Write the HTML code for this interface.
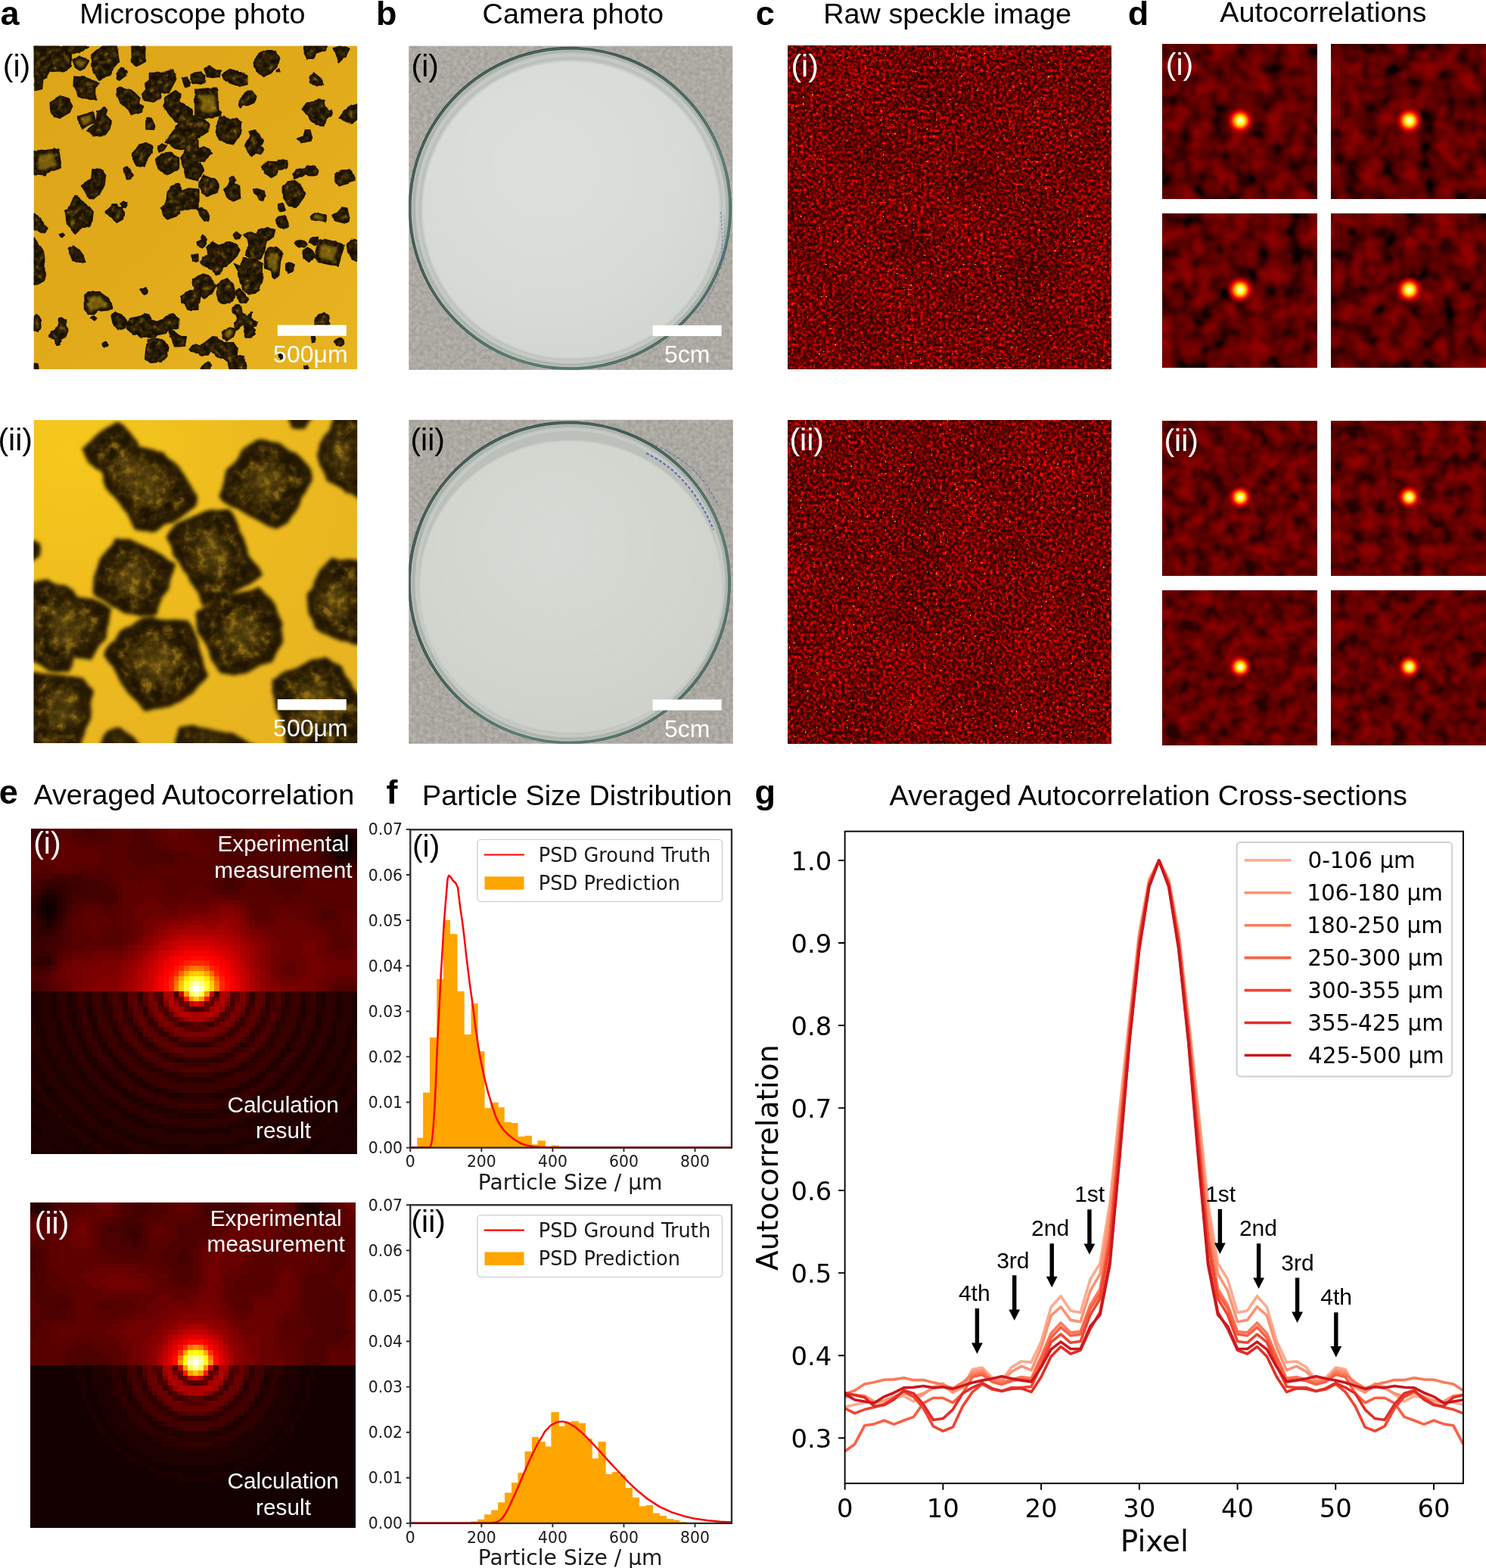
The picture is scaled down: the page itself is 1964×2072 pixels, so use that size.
<!DOCTYPE html>
<html lang="en"><head><meta charset="utf-8"><title>Figure</title>
<style>
html,body{margin:0;padding:0;background:#fff;}
body{width:1964px;height:2072px;overflow:hidden;}
svg{display:block;}
.a{font-family:"Liberation Sans",sans-serif;}
.b{font-family:"Liberation Sans",sans-serif;font-weight:bold;}
.d{font-family:"DejaVu Sans",sans-serif;}
</style></head><body>
<svg xmlns="http://www.w3.org/2000/svg" width="1964" height="2072" viewBox="0 0 1964 2072">
<!-- defs -->
<defs>
<clipPath id="ca1"><rect x="44.5" y="60.4" width="427.7" height="427.5"/></clipPath>
<linearGradient id="ga1" x1="0" y1="0" x2="1" y2="1"><stop offset="0" stop-color="#dda518"/><stop offset="0.5" stop-color="#e1aa1b"/><stop offset="1" stop-color="#e9b422"/></linearGradient>
<filter id="pf1" x="-3%" y="-3%" width="106%" height="106%" color-interpolation-filters="sRGB"><feTurbulence type="fractalNoise" baseFrequency="0.07" numOctaves="2" seed="4" result="n"/><feDisplacementMap in="SourceGraphic" in2="n" scale="4.5" xChannelSelector="R" yChannelSelector="G" result="s0"/><feGaussianBlur in="s0" stdDeviation="0.5" result="s"/><feTurbulence type="fractalNoise" baseFrequency="0.13" numOctaves="3" seed="9"/><feColorMatrix type="matrix" values="1 0 0 0 0 1 0 0 0 0 1 0 0 0 0 0 0 0 0 1"/><feComponentTransfer result="tex"><feFuncR type="table" tableValues="0.09 0.09 0.09 0.09 0.09 0.09 0.09 0.098 0.118 0.143 0.17 0.201 0.233 0.267 0.333 0.405 0.48 0.48 0.48 0.48 0.48"/><feFuncG type="table" tableValues="0.06 0.06 0.06 0.06 0.06 0.06 0.06 0.066 0.08 0.098 0.118 0.14 0.163 0.188 0.241 0.298 0.358 0.358 0.358 0.358 0.358"/><feFuncB type="table" tableValues="0 0 0 0 0 0 0 0.001 0.005 0.009 0.013 0.018 0.024 0.029 0.041 0.053 0.066 0.066 0.066 0.066 0.066"/></feComponentTransfer><feMorphology in="s0" operator="erode" radius="1.7"/><feGaussianBlur stdDeviation="1.4" result="er"/><feComposite in="tex" in2="er" operator="in" result="inner"/><feMerge><feMergeNode in="s"/><feMergeNode in="inner"/></feMerge></filter>
<filter id="bl1" x="-10%" y="-10%" width="120%" height="120%"><feGaussianBlur stdDeviation="1.6"/></filter>
<clipPath id="ca2"><rect x="44.5" y="555.1" width="427.7" height="427"/></clipPath>
<radialGradient id="ga2" cx="0.12" cy="0.1" r="1.2"><stop offset="0" stop-color="#f6c81c"/><stop offset="0.45" stop-color="#edbb1e"/><stop offset="1" stop-color="#e6b222"/></radialGradient>
<filter id="pf2" x="-3%" y="-3%" width="106%" height="106%" color-interpolation-filters="sRGB"><feTurbulence type="fractalNoise" baseFrequency="0.035" numOctaves="2" seed="9" result="n"/><feDisplacementMap in="SourceGraphic" in2="n" scale="10" xChannelSelector="R" yChannelSelector="G" result="s0"/><feGaussianBlur in="s0" stdDeviation="2.6" result="s"/><feTurbulence type="fractalNoise" baseFrequency="0.07" numOctaves="4" seed="14"/><feColorMatrix type="matrix" values="1 0 0 0 0 1 0 0 0 0 1 0 0 0 0 0 0 0 0 1"/><feComponentTransfer result="tex"><feFuncR type="table" tableValues="0.108 0.108 0.108 0.108 0.108 0.108 0.108 0.129 0.155 0.185 0.217 0.25 0.299 0.369 0.441 0.515 0.515 0.515 0.515 0.515 0.515"/><feFuncG type="table" tableValues="0.073 0.073 0.073 0.073 0.073 0.073 0.073 0.088 0.107 0.129 0.152 0.176 0.213 0.269 0.327 0.386 0.386 0.386 0.386 0.386 0.386"/><feFuncB type="table" tableValues="0.003 0.003 0.003 0.003 0.003 0.003 0.003 0.006 0.011 0.016 0.021 0.027 0.035 0.047 0.059 0.072 0.072 0.072 0.072 0.072 0.072"/></feComponentTransfer><feMorphology in="s0" operator="erode" radius="8"/><feGaussianBlur stdDeviation="7" result="er"/><feComposite in="tex" in2="er" operator="in" result="inner"/><feMerge><feMergeNode in="s"/><feMergeNode in="inner"/></feMerge></filter>
<filter id="bl2" x="-30%" y="-30%" width="160%" height="160%"><feGaussianBlur stdDeviation="9"/></filter>
<filter id="bg1" x="0" y="0" width="100%" height="100%" color-interpolation-filters="sRGB"><feTurbulence type="fractalNoise" baseFrequency="0.2" numOctaves="4" seed="21"/><feColorMatrix type="matrix" values="1 0 0 0 0 1 0 0 0 0 1 0 0 0 0 0 0 0 0 1"/><feComponentTransfer><feFuncR type="table" tableValues="0.612 0.612 0.628 0.645 0.662 0.678 0.695 0.712 0.728 0.745 0.745"/><feFuncG type="table" tableValues="0.6 0.6 0.617 0.633 0.65 0.667 0.683 0.7 0.717 0.733 0.733"/><feFuncB type="table" tableValues="0.573 0.573 0.59 0.607 0.624 0.641 0.658 0.675 0.693 0.71 0.71"/></feComponentTransfer></filter>
<filter id="bg2" x="0" y="0" width="100%" height="100%" color-interpolation-filters="sRGB"><feTurbulence type="fractalNoise" baseFrequency="0.2" numOctaves="4" seed="33"/><feColorMatrix type="matrix" values="1 0 0 0 0 1 0 0 0 0 1 0 0 0 0 0 0 0 0 1"/><feComponentTransfer><feFuncR type="table" tableValues="0.604 0.604 0.622 0.639 0.657 0.675 0.692 0.71 0.727 0.745 0.745"/><feFuncG type="table" tableValues="0.592 0.592 0.61 0.627 0.645 0.663 0.68 0.698 0.716 0.733 0.733"/><feFuncB type="table" tableValues="0.565 0.565 0.583 0.601 0.619 0.637 0.655 0.674 0.692 0.71 0.71"/></feComponentTransfer></filter>
<filter id="pw1" x="-2%" y="-2%" width="104%" height="104%" color-interpolation-filters="sRGB"><feGaussianBlur in="SourceGraphic" stdDeviation="1.6" result="s"/><feTurbulence type="fractalNoise" baseFrequency="0.4" numOctaves="3" seed="3"/><feColorMatrix type="matrix" values="0 0 0 0 1 0 0 0 0 1 0 0 0 0 1 0.1 0 0 0 -0.042"/><feComposite in2="s" operator="in" result="t"/><feMerge><feMergeNode in="s"/><feMergeNode in="t"/></feMerge></filter>
<filter id="pw2" x="-2%" y="-2%" width="104%" height="104%" color-interpolation-filters="sRGB"><feGaussianBlur in="SourceGraphic" stdDeviation="1.2" result="s"/><feTurbulence type="fractalNoise" baseFrequency="0.5" numOctaves="3" seed="5"/><feColorMatrix type="matrix" values="0 0 0 0 1 0 0 0 0 1 0 0 0 0 1 0.16 0 0 0 -0.0672"/><feComposite in2="s" operator="in" result="t"/><feMerge><feMergeNode in="s"/><feMergeNode in="t"/></feMerge></filter>
<radialGradient id="gp1" cx="0.42" cy="0.36" r="0.7"><stop offset="0" stop-color="#dcdfda"/><stop offset="0.6" stop-color="#d8dbd6"/><stop offset="1" stop-color="#d1d5cf"/></radialGradient>
<radialGradient id="gp2" cx="0.45" cy="0.35" r="0.75"><stop offset="0" stop-color="#d8dbd5"/><stop offset="0.6" stop-color="#d2d5ce"/><stop offset="1" stop-color="#cdd0c9"/></radialGradient>
<linearGradient id="rim" x1="0" y1="0" x2="1" y2="1"><stop offset="0" stop-color="#3b524b"/><stop offset="0.35" stop-color="#344a44"/><stop offset="0.65" stop-color="#4d7266"/><stop offset="1" stop-color="#3f5a52"/></linearGradient>
<filter id="spk1" x="0" y="0" width="100%" height="100%" color-interpolation-filters="sRGB"><feTurbulence type="fractalNoise" baseFrequency="0.24" numOctaves="2" seed="11" result="a"/><feTurbulence type="fractalNoise" baseFrequency="0.012" numOctaves="2" seed="12" result="b"/><feComposite in="a" in2="b" operator="arithmetic" k1="0" k2="1" k3="0.12" k4="-0.06"/><feColorMatrix type="matrix" values="1 0 0 0 0 1 0 0 0 0 1 0 0 0 0 0 0 0 0 1"/><feComponentTransfer result="c"><feFuncR type="table" tableValues="0.173 0.173 0.173 0.173 0.173 0.173 0.173 0.173 0.173 0.179 0.192 0.21 0.232 0.257 0.286 0.318 0.352 0.389 0.429 0.471 0.516 0.563 0.612 0.663 0.716 0.771 0.829 0.888 0.949 1 1 1 1 1 1 1 1 1 1 1 1"/><feFuncG type="table" tableValues="0 0 0 0 0 0 0 0 0 0 0 0 0 0 0 0 0 0 0 0 0 0 0 0 0 0 0 0 0 0.012 0.077 0.144 0.212 0.282 0.354 0.354 0.354 0.354 0.354 0.354 0.354"/><feFuncB type="table" tableValues="0 0 0 0 0 0 0 0 0 0 0 0 0 0 0 0 0 0 0 0 0 0 0 0 0 0 0 0 0 0 0 0 0 0 0 0 0 0 0 0 0"/></feComponentTransfer><feTurbulence type="fractalNoise" baseFrequency="0.33" numOctaves="1" seed="18"/><feColorMatrix type="matrix" values="0 0 0 0 1 0 0 0 0 0.8 0 0 0 0 0.15 9.0 0 0 0 -6.35"/><feComposite in2="c" operator="over"/></filter>
<filter id="spk2" x="0" y="0" width="100%" height="100%" color-interpolation-filters="sRGB"><feTurbulence type="fractalNoise" baseFrequency="0.24" numOctaves="2" seed="47" result="a"/><feTurbulence type="fractalNoise" baseFrequency="0.012" numOctaves="2" seed="48" result="b"/><feComposite in="a" in2="b" operator="arithmetic" k1="0" k2="1" k3="0.12" k4="-0.06"/><feColorMatrix type="matrix" values="1 0 0 0 0 1 0 0 0 0 1 0 0 0 0 0 0 0 0 1"/><feComponentTransfer result="c"><feFuncR type="table" tableValues="0.173 0.173 0.173 0.173 0.173 0.173 0.173 0.173 0.173 0.179 0.192 0.21 0.232 0.257 0.286 0.318 0.352 0.389 0.429 0.471 0.516 0.563 0.612 0.663 0.716 0.771 0.829 0.888 0.949 1 1 1 1 1 1 1 1 1 1 1 1"/><feFuncG type="table" tableValues="0 0 0 0 0 0 0 0 0 0 0 0 0 0 0 0 0 0 0 0 0 0 0 0 0 0 0 0 0 0.012 0.077 0.144 0.212 0.282 0.354 0.354 0.354 0.354 0.354 0.354 0.354"/><feFuncB type="table" tableValues="0 0 0 0 0 0 0 0 0 0 0 0 0 0 0 0 0 0 0 0 0 0 0 0 0 0 0 0 0 0 0 0 0 0 0 0 0 0 0 0 0"/></feComponentTransfer><feTurbulence type="fractalNoise" baseFrequency="0.33" numOctaves="1" seed="54"/><feColorMatrix type="matrix" values="0 0 0 0 1 0 0 0 0 0.8 0 0 0 0 0.15 9.0 0 0 0 -6.35"/><feComposite in2="c" operator="over"/></filter>
<radialGradient id="spot"><stop offset="0" stop-color="#fff"/><stop offset="0.14" stop-color="#ffffa0"/><stop offset="0.3" stop-color="#fe0"/><stop offset="0.44" stop-color="#ff9000"/><stop offset="0.58" stop-color="#ff1800"/><stop offset="0.72" stop-color="#d80000" stop-opacity="0.8"/><stop offset="0.86" stop-color="#a80000" stop-opacity="0.35"/><stop offset="1" stop-color="#900000" stop-opacity="0"/></radialGradient>
<filter id="ac0" x="0" y="0" width="100%" height="100%" color-interpolation-filters="sRGB"><feTurbulence type="fractalNoise" baseFrequency="0.04" numOctaves="2" seed="3"/><feColorMatrix type="matrix" values="1 0 0 0 0 1 0 0 0 0 1 0 0 0 0 0 0 0 0 1"/><feComponentTransfer><feFuncR type="table" tableValues="0.042 0.042 0.042 0.042 0.042 0.042 0.042 0.042 0.042 0.042 0.085 0.136 0.173 0.205 0.233 0.259 0.283 0.306 0.327 0.348 0.368 0.387 0.405 0.423 0.441 0.458 0.474 0.491 0.506 0.522 0.537 0.552 0.567 0.567 0.567 0.567 0.567 0.567 0.567 0.567 0.567"/><feFuncG type="table" tableValues="0 0 0 0 0 0 0 0 0 0 0 0 0 0 0 0 0 0 0 0 0 0 0 0 0 0 0 0 0 0 0 0 0 0 0 0 0 0 0 0 0"/><feFuncB type="table" tableValues="0 0 0 0 0 0 0 0 0 0 0 0 0 0 0 0 0 0 0 0 0 0 0 0 0 0 0 0 0 0 0 0 0 0 0 0 0 0 0 0 0"/></feComponentTransfer></filter>
<filter id="ac1" x="0" y="0" width="100%" height="100%" color-interpolation-filters="sRGB"><feTurbulence type="fractalNoise" baseFrequency="0.04" numOctaves="2" seed="10"/><feColorMatrix type="matrix" values="1 0 0 0 0 1 0 0 0 0 1 0 0 0 0 0 0 0 0 1"/><feComponentTransfer><feFuncR type="table" tableValues="0.042 0.042 0.042 0.042 0.042 0.042 0.042 0.042 0.042 0.042 0.085 0.136 0.173 0.205 0.233 0.259 0.283 0.306 0.327 0.348 0.368 0.387 0.405 0.423 0.441 0.458 0.474 0.491 0.506 0.522 0.537 0.552 0.567 0.567 0.567 0.567 0.567 0.567 0.567 0.567 0.567"/><feFuncG type="table" tableValues="0 0 0 0 0 0 0 0 0 0 0 0 0 0 0 0 0 0 0 0 0 0 0 0 0 0 0 0 0 0 0 0 0 0 0 0 0 0 0 0 0"/><feFuncB type="table" tableValues="0 0 0 0 0 0 0 0 0 0 0 0 0 0 0 0 0 0 0 0 0 0 0 0 0 0 0 0 0 0 0 0 0 0 0 0 0 0 0 0 0"/></feComponentTransfer></filter>
<filter id="ac2" x="0" y="0" width="100%" height="100%" color-interpolation-filters="sRGB"><feTurbulence type="fractalNoise" baseFrequency="0.04" numOctaves="2" seed="17"/><feColorMatrix type="matrix" values="1 0 0 0 0 1 0 0 0 0 1 0 0 0 0 0 0 0 0 1"/><feComponentTransfer><feFuncR type="table" tableValues="0.042 0.042 0.042 0.042 0.042 0.042 0.042 0.042 0.042 0.042 0.085 0.136 0.173 0.205 0.233 0.259 0.283 0.306 0.327 0.348 0.368 0.387 0.405 0.423 0.441 0.458 0.474 0.491 0.506 0.522 0.537 0.552 0.567 0.567 0.567 0.567 0.567 0.567 0.567 0.567 0.567"/><feFuncG type="table" tableValues="0 0 0 0 0 0 0 0 0 0 0 0 0 0 0 0 0 0 0 0 0 0 0 0 0 0 0 0 0 0 0 0 0 0 0 0 0 0 0 0 0"/><feFuncB type="table" tableValues="0 0 0 0 0 0 0 0 0 0 0 0 0 0 0 0 0 0 0 0 0 0 0 0 0 0 0 0 0 0 0 0 0 0 0 0 0 0 0 0 0"/></feComponentTransfer></filter>
<filter id="ac3" x="0" y="0" width="100%" height="100%" color-interpolation-filters="sRGB"><feTurbulence type="fractalNoise" baseFrequency="0.04" numOctaves="2" seed="24"/><feColorMatrix type="matrix" values="1 0 0 0 0 1 0 0 0 0 1 0 0 0 0 0 0 0 0 1"/><feComponentTransfer><feFuncR type="table" tableValues="0.042 0.042 0.042 0.042 0.042 0.042 0.042 0.042 0.042 0.042 0.085 0.136 0.173 0.205 0.233 0.259 0.283 0.306 0.327 0.348 0.368 0.387 0.405 0.423 0.441 0.458 0.474 0.491 0.506 0.522 0.537 0.552 0.567 0.567 0.567 0.567 0.567 0.567 0.567 0.567 0.567"/><feFuncG type="table" tableValues="0 0 0 0 0 0 0 0 0 0 0 0 0 0 0 0 0 0 0 0 0 0 0 0 0 0 0 0 0 0 0 0 0 0 0 0 0 0 0 0 0"/><feFuncB type="table" tableValues="0 0 0 0 0 0 0 0 0 0 0 0 0 0 0 0 0 0 0 0 0 0 0 0 0 0 0 0 0 0 0 0 0 0 0 0 0 0 0 0 0"/></feComponentTransfer></filter>
<filter id="ac4" x="0" y="0" width="100%" height="100%" color-interpolation-filters="sRGB"><feTurbulence type="fractalNoise" baseFrequency="0.05" numOctaves="2" seed="49"/><feColorMatrix type="matrix" values="1 0 0 0 0 1 0 0 0 0 1 0 0 0 0 0 0 0 0 1"/><feComponentTransfer><feFuncR type="table" tableValues="0.16 0.16 0.16 0.16 0.16 0.16 0.16 0.16 0.16 0.16 0.16 0.205 0.233 0.257 0.279 0.299 0.318 0.336 0.354 0.37 0.386 0.402 0.417 0.432 0.447 0.461 0.475 0.488 0.502 0.515 0.528 0.541 0.554 0.554 0.554 0.554 0.554 0.554 0.554 0.554 0.554"/><feFuncG type="table" tableValues="0 0 0 0 0 0 0 0 0 0 0 0 0 0 0 0 0 0 0 0 0 0 0 0 0 0 0 0 0 0 0 0 0 0 0 0 0 0 0 0 0"/><feFuncB type="table" tableValues="0 0 0 0 0 0 0 0 0 0 0 0 0 0 0 0 0 0 0 0 0 0 0 0 0 0 0 0 0 0 0 0 0 0 0 0 0 0 0 0 0"/></feComponentTransfer></filter>
<filter id="ac5" x="0" y="0" width="100%" height="100%" color-interpolation-filters="sRGB"><feTurbulence type="fractalNoise" baseFrequency="0.05" numOctaves="2" seed="60"/><feColorMatrix type="matrix" values="1 0 0 0 0 1 0 0 0 0 1 0 0 0 0 0 0 0 0 1"/><feComponentTransfer><feFuncR type="table" tableValues="0.16 0.16 0.16 0.16 0.16 0.16 0.16 0.16 0.16 0.16 0.16 0.205 0.233 0.257 0.279 0.299 0.318 0.336 0.354 0.37 0.386 0.402 0.417 0.432 0.447 0.461 0.475 0.488 0.502 0.515 0.528 0.541 0.554 0.554 0.554 0.554 0.554 0.554 0.554 0.554 0.554"/><feFuncG type="table" tableValues="0 0 0 0 0 0 0 0 0 0 0 0 0 0 0 0 0 0 0 0 0 0 0 0 0 0 0 0 0 0 0 0 0 0 0 0 0 0 0 0 0"/><feFuncB type="table" tableValues="0 0 0 0 0 0 0 0 0 0 0 0 0 0 0 0 0 0 0 0 0 0 0 0 0 0 0 0 0 0 0 0 0 0 0 0 0 0 0 0 0"/></feComponentTransfer></filter>
<filter id="ac6" x="0" y="0" width="100%" height="100%" color-interpolation-filters="sRGB"><feTurbulence type="fractalNoise" baseFrequency="0.05" numOctaves="2" seed="71"/><feColorMatrix type="matrix" values="1 0 0 0 0 1 0 0 0 0 1 0 0 0 0 0 0 0 0 1"/><feComponentTransfer><feFuncR type="table" tableValues="0.16 0.16 0.16 0.16 0.16 0.16 0.16 0.16 0.16 0.16 0.16 0.205 0.233 0.257 0.279 0.299 0.318 0.336 0.354 0.37 0.386 0.402 0.417 0.432 0.447 0.461 0.475 0.488 0.502 0.515 0.528 0.541 0.554 0.554 0.554 0.554 0.554 0.554 0.554 0.554 0.554"/><feFuncG type="table" tableValues="0 0 0 0 0 0 0 0 0 0 0 0 0 0 0 0 0 0 0 0 0 0 0 0 0 0 0 0 0 0 0 0 0 0 0 0 0 0 0 0 0"/><feFuncB type="table" tableValues="0 0 0 0 0 0 0 0 0 0 0 0 0 0 0 0 0 0 0 0 0 0 0 0 0 0 0 0 0 0 0 0 0 0 0 0 0 0 0 0 0"/></feComponentTransfer></filter>
<filter id="ac7" x="0" y="0" width="100%" height="100%" color-interpolation-filters="sRGB"><feTurbulence type="fractalNoise" baseFrequency="0.05" numOctaves="2" seed="82"/><feColorMatrix type="matrix" values="1 0 0 0 0 1 0 0 0 0 1 0 0 0 0 0 0 0 0 1"/><feComponentTransfer><feFuncR type="table" tableValues="0.16 0.16 0.16 0.16 0.16 0.16 0.16 0.16 0.16 0.16 0.16 0.205 0.233 0.257 0.279 0.299 0.318 0.336 0.354 0.37 0.386 0.402 0.417 0.432 0.447 0.461 0.475 0.488 0.502 0.515 0.528 0.541 0.554 0.554 0.554 0.554 0.554 0.554 0.554 0.554 0.554"/><feFuncG type="table" tableValues="0 0 0 0 0 0 0 0 0 0 0 0 0 0 0 0 0 0 0 0 0 0 0 0 0 0 0 0 0 0 0 0 0 0 0 0 0 0 0 0 0"/><feFuncB type="table" tableValues="0 0 0 0 0 0 0 0 0 0 0 0 0 0 0 0 0 0 0 0 0 0 0 0 0 0 0 0 0 0 0 0 0 0 0 0 0 0 0 0 0"/></feComponentTransfer></filter>
</defs>
<!-- a1 -->
<g clip-path="url(#ca1)"><rect x="44.5" y="60.4" width="427.7" height="427.5" fill="url(#ga1)"/>
<g filter="url(#pf1)"><path d="M45.15 61.15L117.35 61.15L108.18 66.88L94.43 71.46L93.28 86.36L87.55 93.24L66.92 94.38L61.19 103.55L56.61 105.84L55.46 117.3L45.15 119.59ZM95.57 80.63L104.74 74.33L117.35 81.2L112.76 88.65L105.89 92.09L100.16 88.65ZM121.93 71.46L134.54 61.15L154.02 61.15L157.46 80.63L150.58 88.65L144.85 98.97L131.1 105.27L125.37 97.82L121.93 86.36ZM174.08 61.15L191.84 61.15L191.27 81.78L181.53 86.93L174.65 81.78ZM154.02 97.82L160.9 89.22L168.35 94.38L166.63 100.11L157.46 106.99L153.45 105.27ZM97.86 101.26L112.76 102.4L129.95 109.28L126.52 117.3L126.52 132.2L119.64 132.2L103.59 126.47L97.29 113.86ZM66.35 135.64L80.67 127.04L89.84 129.91L95.57 140.22L92.13 148.25L78.38 156.27L71.51 153.98L66.92 144.81ZM103.02 153.4L123.08 147.1L126.52 160.85L108.18 170.02L105.89 166.58ZM128.81 147.1L137.98 141.37L141.41 144.81L139.12 151.68L147.14 159.71L144.85 170.02L139.12 178.04L123.08 179.76L115.06 172.89L124.22 165.44L127.66 158.56ZM154.59 117.3L158.61 115.01L167.77 118.45L176.94 121.89L184.96 129.91L183.25 137.93L188.4 140.22L187.26 147.1L173.5 151.68L170.07 144.81L158.61 134.49L155.17 125.33ZM197.57 96.67L213.62 96.67L228.51 92.09L232.53 104.7L222.78 123.03L213.62 120.74L212.47 128.76L202.16 135.64L189.55 133.35L187.83 124.18L192.99 118.45L191.84 110.43L197.57 105.84ZM240.55 103.55L248 101.83L251.44 109.28L249.14 115.01L244.56 115.01ZM218.2 128.76L233.1 119.59L238.83 124.18L237.68 135.64L253.73 144.81L252.58 155.12L238.83 163.14L231.95 160.85L225.08 151.68L215.91 140.22ZM192.99 156.84L201.01 156.27L205.59 166.58L204.45 171.17L192.99 170.59ZM234.25 165.44L246.85 155.12L261.75 151.68L261.75 238.78L245.71 234.2L242.27 220.45L237.68 208.99L245.71 197.53L231.95 195.23L222.78 189.5L218.2 187.21L227.37 175.75ZM175.8 203.26L183.82 191.8L191.84 188.93L201.01 194.09L201.01 202.11L191.84 214.72L189.55 220.45L181.53 219.3L175.8 210.13ZM207.89 192.94L213.62 188.93L219.35 191.8L215.91 198.67L210.18 200.96ZM206.74 211.28L213.62 203.26L227.37 202.11L235.39 208.99L235.39 222.74L220.49 231.91L210.18 222.74ZM45.15 200.39L49.73 199.25L71.51 196.38L77.24 198.67L81.25 221.59L61.19 228.47L60.04 231.91L45.15 230.76ZM164.34 222.74L168.35 219.3L171.79 225.03L176.37 230.76L173.5 236.49L167.77 237.07L165.48 230.76ZM123.08 223.89L134.54 225.03L139.7 231.91L137.98 243.37L131.1 257.12L124.22 262.85L116.2 259.41L107.61 244.51L112.76 241.08L121.93 237.64ZM96.72 260.56L100.16 258.27L110.47 266.29L118.49 276.6L89.84 276.6ZM158.61 268.58L163.19 265.14L167.77 267.44L166.05 273.17L160.9 275ZM220.49 252.54L227.37 245.66L235.39 243.37L241.12 252.54L250.29 249.1L261.75 250.25L261.75 276.6L213.62 276.6L219.35 264ZM146 276.6L148.29 269.73L154.02 269.73L157.46 276.6ZM253.42 97.82L264.88 96.1L271.18 100.11L271.75 106.99L266.02 111L253.42 109.28ZM270.03 90.94L278.06 85.79L284.36 92.09L291.24 92.09L290.09 101.26L282.07 102.4L274.04 101.26ZM293.53 97.82L303.84 91.52L317.59 95.53L326.76 100.11L326.76 110.43L315.3 113.29L303.84 109.28L295.82 103.55ZM334.21 82.92L342.81 70.31L353.12 65.73L364.58 68.02L368.59 77.19L365.73 88.65L355.41 97.82L347.39 101.26L338.22 93.24ZM365.16 93.24L369.74 90.94L370.89 93.81L366.3 94.95ZM402.98 61.15L432.2 61.15L429.91 65.73L417.3 70.31L415.01 77.19L405.84 77.19L402.4 70.31ZM441.37 63.44L450.54 61.15L460.85 64.58L457.41 73.75L448.25 81.78L444.81 72.61ZM408.13 102.4L415.01 96.67L426.47 105.84L427.62 111.57L418.45 114.44L410.43 109.28ZM258 118.45L284.36 116.16L286.65 119.59L288.94 145.95L292.38 148.25L291.24 152.83L270.61 156.27L258 151.68ZM258 155.12L269.46 157.41L276.91 165.44L275.19 173.46L264.88 180.34L258 181.48ZM317.59 128.76L325.62 121.31L333.64 121.31L338.8 127.62L335.93 134.49L326.76 138.5L322.18 136.79L318.74 142.52L315.88 137.93ZM290.09 155.12L295.82 153.4L303.84 159.71L313.01 156.27L319.31 163.14L318.74 173.46L313.01 183.77L308.43 190.65L301.55 189.5L290.09 186.07L285.51 174.61L287.8 163.14ZM330.2 173.46L335.93 171.74L342.81 179.19L347.39 186.07L345.1 192.94L348.54 198.67L345.1 202.68L338.22 200.96L332.49 205.55L327.91 200.96L323.9 191.8L326.76 186.07L332.49 180.34ZM399.54 143.66L406.99 136.79L416.16 135.64L420.74 131.06L428.76 131.63L429.91 140.22L434.49 147.1L439.65 145.38L437.93 152.83L431.05 157.41L428.76 165.44L416.16 164.29L410.43 158.56L405.84 151.68ZM449.39 155.12L455.12 147.1L463.14 140.22L475.75 137.36L475.75 155.12L464.29 163.14L457.41 162ZM392.66 183.2L401.26 180.34L403.55 171.74L410.43 171.74L413.29 180.34L410.43 186.07L397.82 188.36ZM258 197.53L269.46 192.94L278.63 197.53L280.35 203.26L269.46 213.57L258 211.28ZM258 213.57L264.88 215.86L268.89 226.18L264.88 234.2L258 235.35ZM345.67 221.59L353.12 213.57L365.73 214.14L372.61 211.28L380.63 211.28L379.48 220.45L372.61 223.89L366.88 223.89L364.58 229.62L357.71 233.63L349.68 228.47ZM386.93 230.76L393.23 225.03L403.55 222.74L405.84 219.3L413.86 219.3L420.74 226.18L418.45 231.91L408.13 231.91L402.4 229.62L389.8 236.49ZM443.09 229.62L452.83 225.03L460.85 225.03L467.73 231.91L467.73 238.78L459.71 242.22L447.1 245.66L443.09 239.93ZM262.01 243.37L269.46 231.91L284.36 237.64L288.94 243.37L285.51 254.83L274.04 259.41L267.17 254.83ZM295.82 249.1L303.84 243.37L303.27 236.49L308.43 233.05L311.86 238.78L309.57 242.22L316.45 245.66L317.59 261.71L307.28 266.29L300.4 261.71ZM334.79 250.25L340.52 249.67L348.54 252.54L350.83 259.41L347.39 265.14L342.81 264L340.52 258.27L335.93 254.83ZM374.32 247.95L380.63 239.93L390.94 238.78L397.82 244.51L403.55 255.98L398.96 265.14L390.94 273.17L381.77 272.02L374.9 262.85ZM366.88 276.6L368.02 269.73L373.75 268.58L377.19 276.6ZM45.15 282.02L50.88 286.61L58.9 296.92L62.91 302.65L58.9 307.81L49.73 303.8L45.15 303.8ZM86.4 278.58L92.13 275.15L117.35 274L123.08 280.88L121.93 291.19L118.49 298.07L108.18 301.51L100.16 309.53L94.43 304.94L88.7 295.78ZM139.12 279.73L144.85 275.15L158.61 274L164.34 282.02L163.19 290.04L155.17 294.63L147.14 287.75ZM213.62 274L235.39 274L236.54 282.02L233.1 285.46L222.78 288.9L215.91 284.31ZM78.38 308.95L82.97 307.24L85.26 310.67L81.82 313.54ZM45.15 312.97L50.88 324.43L57.75 331.3L59.47 339.33L56.61 349.64L61.19 361.1L57.75 371.41L48.58 376L45.15 376ZM91.56 327.86L96.72 325L103.59 330.16L109.33 338.18L112.76 346.2L105.89 347.35L95.57 343.91L92.13 335.89ZM253.16 337.03L261.75 335.89L261.75 346.2L253.73 345.63ZM253.73 369.12L261.75 363.39L261.75 379.44L254.87 377.14ZM184.96 382.3L192.99 380.01L194.13 386.31L189.55 388.61ZM111.04 389.75L117.35 385.74L132.25 385.74L141.41 392.04L148.29 401.21L148.29 409.23L128.81 410.95L124.22 415.54L116.2 414.96L111.62 405.8ZM119.64 420.12L124.22 417.83L127.66 420.7L124.22 424.13ZM238.83 393.19L245.71 387.46L250.29 384.02L261.75 384.02L261.75 409.23L249.14 409.23L245.71 402.36L239.98 398.92ZM147.14 417.26L152.88 413.25L160.9 416.11L166.63 424.13L165.48 432.16L156.31 435.59L149.44 427.57ZM167.77 426.43L172.36 421.84L182.67 419.55L190.7 415.54L197.57 417.26L198.72 422.99L206.74 425.28L214.76 421.84L219.35 417.26L228.51 414.39L236.54 420.7L236.54 433.3L233.1 434.45L222.78 434.45L219.35 440.18L207.89 442.47L204.45 445.91L186.11 445.91L181.53 440.18L175.8 441.32L167.77 434.45ZM222.78 435.59L227.37 436.17L236.54 444.76L246.28 444.76L243.99 457.37L230.81 457.94L226.22 445.91ZM195.28 449.35L204.45 447.05L214.76 449.35L222.78 459.66L220.49 471.12L213.62 478L198.72 479.14L191.84 473.41L192.99 461.95ZM249.14 461.95L253.73 456.22L261.75 456.22L261.75 465.39L252.58 464.25ZM45.15 417.26L48.58 414.39L53.17 421.84L53.74 432.16L50.88 437.31L45.15 436.74ZM77.81 420.7L82.97 419.55L88.7 422.99L86.4 428.72L88.7 436.74L87.55 443.62L80.67 447.05L78.38 456.22L73.8 456.22L72.65 447.05L63.48 444.76L68.07 439.03L77.24 433.3L79.53 427.57ZM136.26 455.08L140.27 452.21L143.13 456.22L137.4 460.81ZM45.15 480.29L49.73 480.86L50.88 486.02L45.15 487.17ZM261.44 277.44L266.02 275.15L272.9 278.58L276.91 286.61L275.19 292.34L269.46 291.19L264.88 285.46ZM366.88 274L376.04 274L374.9 277.44L370.31 278.58ZM363.44 291.19L368.02 286.61L377.19 284.89L380.63 293.48L381.2 299.21L374.9 303.22L368.02 299.21ZM410.43 285.46L416.16 282.02L431.05 284.31L431.05 293.48L411.57 290.04ZM439.08 283.17L447.1 279.73L451.68 275.15L459.71 276.29L462 285.46L460.85 293.48L457.41 295.2L441.37 291.19ZM308.43 309.53L313.01 306.09L318.74 310.67L316.45 315.26L310.72 315.83ZM260.29 319.84L266.02 317.55L268.31 309.53L271.75 314.11L272.33 323.28L267.17 327.86L261.44 325.57ZM274.04 326.72L280.92 319.84L288.94 324.43L303.84 319.84L311.86 323.28L317.02 330.16L313.01 338.18L303.84 347.35L295.82 353.08L290.09 362.25L284.36 363.39L280.92 356.52L271.75 353.08L264.88 347.35L267.17 340.47L275.19 335.89ZM322.18 310.67L329.06 307.24L338.22 309.53L340.52 303.8L353.12 300.36L363.44 304.94L361.14 312.97L353.12 318.7L349.68 331.3L343.95 342.76L332.49 341.62L325.62 338.18L327.91 324.43L326.76 317.55ZM350.83 333.59L356.56 326.72L366.88 327.86L373.18 334.74L370.31 347.35L368.59 363.39L364.58 367.98L360 364.54L358.85 357.66L350.83 354.22L349.68 345.06ZM309.57 348.49L317.59 351.93L322.18 341.62L335.93 342.76L347.39 348.49L346.82 365.68L342.81 382.88L337.08 388.61L329.06 388.61L321.03 382.88L317.59 372.56L315.3 358.81ZM377.76 349.64L382.92 347.35L388.08 349.64L387.5 357.66L381.77 359.95L377.76 356.52ZM390.37 320.99L395.53 317.55L404.7 318.7L406.99 323.28L402.4 326.72L395.53 325.57ZM400.11 331.3L406.99 326.72L413.86 333.59L415.01 340.47L409.28 346.2L401.26 341.62ZM409.28 319.84L411.57 314.11L419.59 313.54L420.74 319.84L416.16 323.28ZM420.74 317.55L429.91 316.4L455.12 323.28L447.1 350.79L436.78 349.64L420.74 346.2L416.16 339.33L418.45 327.86ZM458.56 323.28L463.14 317.55L475.75 317.55L475.75 346.2L464.29 341.62L459.71 333.59ZM258 365.68L267.17 361.1L275.19 363.39L285.51 377.14L280.92 386.31L269.46 394.34L263.73 388.61L258 386.31ZM286.65 377.14L292.38 371.41L300.4 367.98L308.43 377.14L310.72 388.61L306.13 397.77L296.97 401.21L288.94 397.77L286.65 388.61ZM311.86 385.17L316.45 382.3L322.18 387.46L327.91 394.34L325.62 400.07L317.59 400.07L313.01 393.19ZM258 388.61L263.73 390.9L262.58 400.07L258 406.94ZM307.28 405.8L313.01 402.36L318.74 405.8L319.89 413.82L326.76 417.26L332.49 413.25L331.35 420.7L340.52 425.28L338.22 431.01L331.35 431.01L337.08 435.59L337.08 442.47L332.49 445.91L325.62 445.91L322.75 436.74L324.47 429.86L317.59 431.01L311.86 436.74L309.57 426.43L314.16 421.84L311.86 414.96L307.28 411.53ZM293.53 439.03L301.55 432.16L309.57 433.3L310.72 439.03L306.13 447.05L300.4 450.49L295.82 447.05ZM416.16 422.99L420.74 416.11L428.76 413.25L434.49 417.26L435.64 428.72L416.16 428.72ZM411.57 444.76L416.16 444.76L417.3 451.64L412.72 452.78ZM442.51 450.49L448.25 446.48L453.98 448.2L454.55 453.93L449.39 457.37L444.81 456.22ZM258 455.08L264.88 457.37L275.19 449.35L280.92 444.76L287.8 445.91L296.97 452.78L308.43 452.78L313.01 459.66L311.86 468.83L322.18 471.12L323.33 479.14L325.62 486.02L322.18 490.6L303.84 490.6L301.55 478L295.82 473.41L286.65 471.12L278.63 463.1L275.19 468.83L266.02 468.83L262.58 464.25L258 465.39ZM263.73 490.6L269.46 482.58L275.19 479.14L278.63 482.58L276.34 490.6ZM401.83 483.73L405.84 482.01L408.13 486.02L404.7 489L402.4 488.31ZM368.02 467.68L373.75 466.54L374.9 473.41L370.31 475.71Z" fill="#1b1302" stroke="#1b1302" stroke-width="1.6" stroke-linejoin="round"/></g>
<path d="M99.56 82.01L105.25 78.1L113.07 82.36L110.22 86.98L105.96 89.11L102.41 86.98ZM106.94 155.76L119.38 151.85L121.51 160.37L110.14 166.06L108.72 163.93ZM51.32 205.35L54.17 204.64L67.67 202.86L71.22 204.28L73.71 218.49L61.27 222.75L60.56 224.89L51.32 224.18ZM265.89 126.12L282.24 124.7L283.66 126.84L285.08 143.18L287.21 144.6L286.5 147.44L273.71 149.57L265.89 146.73ZM117.47 394.06L121.38 391.58L130.61 391.58L136.3 395.48L140.56 401.17L140.56 406.14L128.48 407.21L125.64 410.05L120.67 409.7L117.82 404.01ZM414.08 286.07L417.64 283.94L426.87 285.36L426.87 291.04L414.79 288.91ZM354.67 338.9L358.22 334.64L364.62 335.35L368.53 339.61L366.75 347.43L365.68 357.37L363.2 360.22L360.36 358.09L359.64 353.82L354.67 351.69L353.96 346.01ZM424.5 323.76L430.18 323.05L445.81 327.31L440.84 344.36L434.44 343.65L424.5 341.52L421.65 337.26L423.07 330.15ZM296.95 439.84L301.92 435.58L306.9 436.29L307.61 439.84L304.77 444.81L301.21 446.95L298.37 444.81Z" fill="#c9a01c" fill-opacity="0.5" filter="url(#bl1)"/>
</g>
<!-- a2 -->
<g clip-path="url(#ca2)"><rect x="44.5" y="555.1" width="427.7" height="427" fill="url(#ga2)"/>
<g filter="url(#pf2)"><path d="M109.33 591.82L154.02 556.29L181.53 583.8L183.82 591.82L213.62 598.7L235.39 620.47L259.46 654.85L256.02 668.61L225.08 689.23L202.16 700.7L183.82 696.11L163.19 673.19L142.56 645.68L135.68 622.76L119.64 611.3ZM341.97 582.65L364.9 586.09L392.4 603.28L408.45 622.76L408.45 636.52L378.65 689.23L364.9 694.96L330.51 682.36L291.55 654.85L296.13 643.39L303.01 622.76L319.05 599.84ZM442.83 549.42L479.5 549.42L479.5 657.14L456.58 647.98L433.66 631.93L422.2 604.43L424.49 588.38L438.24 565.46ZM380.94 549.42L410.74 549.42L401.57 565.46L387.82 563.17ZM234.25 691.53L273.21 677.77L300.72 673.19L314.47 696.11L325.93 730.49L344.27 758L319.05 774.04L291.55 792.38L268.63 799.26L250.29 760.29L229.66 728.2L222.78 709.86ZM135.68 737.37L151.73 714.45L172.36 714.45L209.03 732.78L229.66 746.54L220.49 774.04L204.45 810.72L188.4 815.3L154.02 801.55L125.37 785.5L124.22 771.75ZM39.42 771.75L64.63 767.17L85.26 776.33L101.3 790.09L119.64 792.38L147.14 806.13L135.68 842.81L119.64 868.02L96.72 865.73L89.84 886.36L66.92 884.06L39.42 870.31ZM144.85 849.68L163.19 833.64L199.86 817.59L245.71 821.03L254.87 835.93L264.04 868.02L270.92 893.23L250.29 918.45L215.91 934.49L190.7 936.78L167.77 911.57L151.73 879.48L140.27 865.73ZM261.75 810.72L296.13 792.38L341.97 777.48L362.6 801.55L371.77 824.47L369.48 851.97L358.02 872.6L307.59 890.94L291.55 886.36L277.8 863.43L264.04 835.93ZM422.2 755.71L442.83 739.66L479.5 744.25L479.5 849.68L452 845.1L419.91 829.05L410.74 810.72L408.45 783.21ZM39.42 890.94L73.8 893.23L105.89 897.82L119.64 911.57L117.35 948.24L110.47 966.58L103.59 989.5L39.42 989.5ZM362.6 897.82L387.82 886.36L431.37 870.31L447.41 879.48L463.46 911.57L479.5 929.91L479.5 989.5L383.23 989.5L369.48 943.66L360.31 911.57ZM131.1 989.5L142.56 966.58L156.31 962L172.36 973.46L186.11 989.5ZM231.95 989.5L238.83 962L250.29 959.7L284.67 966.58L319.05 975.75L341.97 989.5ZM39.42 714.45L48.58 719.03L49.73 732.78L39.42 739.66Z" fill="#241802" stroke="#241802" stroke-width="4" stroke-linejoin="round"/></g>
<path d="M146.84 612.75L169.19 594.99L182.94 608.74L184.09 612.75L198.98 616.19L209.87 627.08L221.91 644.27L220.19 651.15L204.72 661.46L193.25 667.19L184.09 664.9L173.77 653.44L163.46 639.69L160.02 628.23L152 622.5ZM345.99 608.77L357.45 610.49L371.2 619.09L379.22 628.83L379.22 635.7L364.32 662.06L357.45 664.93L340.26 658.63L320.77 644.87L323.06 639.14L326.5 628.83L334.53 617.37ZM444.98 574.34L463.31 574.34L463.31 628.21L451.85 623.62L440.39 615.6L434.66 601.85L435.81 593.83L442.68 582.36ZM388.1 553.14L403 553.14L398.42 561.16L391.54 560.02ZM257.74 712.06L277.22 705.18L290.97 702.89L297.85 714.35L303.58 731.54L312.75 745.3L300.14 753.32L286.39 762.49L274.93 765.92L265.76 746.44L255.45 730.4L252.01 721.23ZM154.91 750.7L162.93 739.24L173.24 739.24L191.58 748.41L201.9 755.29L197.31 769.04L189.29 787.38L181.27 789.67L164.08 782.79L149.75 774.77L149.18 767.9ZM65.78 799.26L78.38 796.96L88.7 801.55L96.72 808.42L105.89 809.57L119.64 816.45L113.91 834.78L105.89 847.39L94.43 846.24L90.99 856.56L79.53 855.41L65.78 848.54ZM174.74 861.98L183.91 853.96L202.24 845.94L225.16 847.65L229.75 855.1L234.33 871.15L237.77 883.76L227.46 896.36L210.27 904.38L197.66 905.53L186.2 892.92L178.18 876.88L172.45 870ZM290.09 823.9L307.28 814.73L330.2 807.28L340.52 819.31L345.1 830.77L343.95 844.53L338.22 854.84L313.01 864.01L304.99 861.72L298.11 850.26L291.24 836.5ZM430.79 775.19L441.11 767.17L459.45 769.46L459.45 822.18L445.69 819.88L429.65 811.86L425.06 802.69L423.92 788.94ZM64.06 913.43L81.25 914.58L97.29 916.87L104.17 923.75L103.02 942.08L99.58 951.25L96.15 962.71L64.06 962.71ZM389.54 909.39L402.14 903.66L423.92 895.64L431.94 900.22L439.96 916.27L447.98 925.44L447.98 955.23L399.85 955.23L392.97 932.31L388.39 916.27ZM144.39 982.85L150.12 971.39L157 969.1L165.02 974.83L171.9 982.85ZM254.87 981.67L258.31 967.92L264.04 966.77L281.23 970.21L298.42 974.79L309.88 981.67ZM41.85 720.46L46.44 722.76L47.01 729.63L41.85 733.07Z" fill="#b08a24" fill-opacity="0.3" filter="url(#bl2)"/></g>
<!-- b1 -->
<clipPath id="cb1"><rect x="540.3" y="60.8" width="428" height="428"/></clipPath>
<g clip-path="url(#cb1)">
<rect x="540.3" y="60.8" width="428" height="428" fill="#aca9a3" filter="url(#bg1)"/>
<circle cx="754.3" cy="274.5" r="212.8" fill="#bcc0ba"/>
<circle cx="754.3" cy="274.5" r="207.3" fill="none" stroke="#aeb4ae" stroke-width="4"/>
<circle cx="754.3" cy="275.5" r="202.8" fill="none" stroke="#c6cac4" stroke-width="4"/>
<circle cx="753.4" cy="275.4" r="211.8" fill="none" stroke="url(#rim)" stroke-width="3.7"/>
<circle cx="753.4" cy="275.4" r="211.8" fill="none" stroke="#8fb0a6" stroke-width="0.7" stroke-opacity="0.6"/>
<g filter="url(#pw1)"><ellipse cx="754.8" cy="277.3" rx="197.3" ry="197" fill="url(#gp1)"/></g>
<g stroke="#5a66c8" stroke-opacity="0.5" fill="none" stroke-width="1.6" stroke-dasharray="3 2.2"><path d="M952.5 280 Q956.5 320 953 356"/><path d="M950 362 Q941 392 921 414" stroke-opacity="0.4"/><path d="M956.5 284 Q959.5 318 957 350" stroke-opacity="0.3"/></g>
</g>
<!-- b2 -->
<clipPath id="cb2"><rect x="540.3" y="554.8" width="428.5" height="428"/></clipPath>
<g clip-path="url(#cb2)">
<rect x="540.3" y="554.8" width="428.5" height="428" fill="#aca9a3" filter="url(#bg2)"/>
<circle cx="753.4" cy="769" r="212.6" fill="#bcc0ba"/>
<circle cx="753.4" cy="769" r="207.1" fill="none" stroke="#aeb4ae" stroke-width="4"/>
<circle cx="753.4" cy="770" r="202.6" fill="none" stroke="#c6cac4" stroke-width="4"/>
<circle cx="752.5" cy="769.9" r="211.6" fill="none" stroke="url(#rim)" stroke-width="3.7"/>
<circle cx="752.5" cy="769.9" r="211.6" fill="none" stroke="#8fb0a6" stroke-width="0.7" stroke-opacity="0.6"/>
<g filter="url(#pw2)"><ellipse cx="754.3" cy="775.4" rx="200.1" ry="193.2" fill="url(#gp2)"/></g>
<g stroke="#3f52b8" stroke-opacity="0.75" fill="none" stroke-width="2.2" stroke-dasharray="4 2.5"><path d="M854 599 Q912 626 943 700"/><path d="M860 586 Q925 612 949 668" stroke-opacity="0.5" stroke-width="1.5"/></g>
</g>
<!-- c -->
<rect x="1041.3" y="60.1" width="427.7" height="427.4" fill="#7a0a08" filter="url(#spk1)"/>
<rect x="1041.1" y="555.1" width="427.7" height="427.1" fill="#7a0a08" filter="url(#spk2)"/>
<!-- d -->
<rect x="1536.2" y="58.7" width="204" height="203.9" fill="#600" filter="url(#ac0)"/>
<circle cx="1639.2" cy="159.45" r="19" fill="url(#spot)"/>
<rect x="1759.5" y="58.7" width="204" height="203.9" fill="#600" filter="url(#ac1)"/>
<circle cx="1862.5" cy="159.45" r="19" fill="url(#spot)"/>
<rect x="1536.2" y="282.1" width="204" height="203.9" fill="#600" filter="url(#ac2)"/>
<circle cx="1639.2" cy="382.85" r="19" fill="url(#spot)"/>
<rect x="1759.5" y="282.1" width="204" height="203.9" fill="#600" filter="url(#ac3)"/>
<circle cx="1862.5" cy="382.85" r="19" fill="url(#spot)"/>
<rect x="1536.2" y="556.2" width="204" height="203.9" fill="#600" filter="url(#ac4)"/>
<circle cx="1639.2" cy="656.95" r="16.5" fill="url(#spot)"/>
<rect x="1759.5" y="556.2" width="204" height="203.9" fill="#600" filter="url(#ac5)"/>
<circle cx="1862.5" cy="656.95" r="16.5" fill="url(#spot)"/>
<rect x="1536.2" y="780.4" width="204" height="203.9" fill="#600" filter="url(#ac6)"/>
<circle cx="1639.2" cy="881.15" r="16.5" fill="url(#spot)"/>
<rect x="1759.5" y="780.4" width="204" height="203.9" fill="#600" filter="url(#ac7)"/>
<circle cx="1862.5" cy="881.15" r="16.5" fill="url(#spot)"/>
<!-- e -->
<g transform="translate(41.3 1094.7) scale(6.72344)" shape-rendering="crispEdges" stroke-width="1.02" fill="none"><rect width="64" height="64" fill="#270000"/><path stroke="#0b0000" d="M60 2.5h3M60 3.5h3M60 4.5h3M3 15.5h1M3 16.5h1"/><path stroke="#140000" d="M60 1.5h3M59 2.5h1M63 2.5h1M59 3.5h1M63 3.5h1M63 4.5h1M60 5.5h3M2 14.5h3M2 15.5h1M4 15.5h1M2 16.5h1M4 16.5h1M3 17.5h1M3 51.5h1M61 51.5h1M0 53.5h1M1 54.5h1M63 54.5h1M2 55.5h1M62 55.5h1M0 58.5h1M1 59.5h1M63 59.5h1M12 60.5h1M52 60.5h1M8 61.5h1M56 61.5h1M4 62.5h1M9 62.5h1M55 62.5h1M60 62.5h1M0 63.5h1M5 63.5h1M10 63.5h1M54 63.5h1M59 63.5h1"/><path stroke="#1d0000" d="M61 0.5h1M59 1.5h1M63 1.5h1M59 4.5h1M63 5.5h1M2 13.5h3M1 15.5h1M1 16.5h1M2 17.5h1M4 17.5h1M3 18.5h1M0 32.5h1M4 32.5h1M7 32.5h1M57 32.5h1M60 32.5h1M0 33.5h2M4 33.5h1M7 33.5h1M57 33.5h1M60 33.5h1M63 33.5h1M0 34.5h2M4 34.5h1M7 34.5h1M11 34.5h1M53 34.5h1M57 34.5h1M60 34.5h1M63 34.5h1M0 35.5h2M4 35.5h1M11 35.5h1M53 35.5h1M60 35.5h1M63 35.5h1M0 36.5h2M4 36.5h1M8 36.5h1M11 36.5h1M53 36.5h1M56 36.5h1M60 36.5h1M63 36.5h1M1 37.5h1M4 37.5h1M8 37.5h1M56 37.5h1M60 37.5h1M63 37.5h1M1 38.5h1M5 38.5h1M8 38.5h1M12 38.5h1M52 38.5h1M56 38.5h1M59 38.5h1M63 38.5h1M1 39.5h2M5 39.5h1M12 39.5h1M52 39.5h1M59 39.5h1M62 39.5h2M1 40.5h2M5 40.5h1M9 40.5h1M55 40.5h1M59 40.5h1M62 40.5h2M2 41.5h1M5 41.5h2M9 41.5h1M13 41.5h1M51 41.5h1M55 41.5h1M58 41.5h2M62 41.5h1M2 42.5h1M6 42.5h1M10 42.5h1M14 42.5h1M50 42.5h1M54 42.5h1M58 42.5h1M62 42.5h1M2 43.5h2M6 43.5h2M10 43.5h1M14 43.5h1M50 43.5h1M54 43.5h1M57 43.5h2M61 43.5h2M0 44.5h1M3 44.5h1M7 44.5h1M11 44.5h1M15 44.5h1M49 44.5h1M53 44.5h1M57 44.5h1M61 44.5h1M0 45.5h1M3 45.5h2M7 45.5h2M11 45.5h2M16 45.5h1M48 45.5h1M52 45.5h2M56 45.5h2M60 45.5h2M0 46.5h2M4 46.5h1M8 46.5h1M12 46.5h1M17 46.5h1M47 46.5h1M52 46.5h1M56 46.5h1M60 46.5h1M63 46.5h1M0 47.5h2M4 47.5h2M9 47.5h1M13 47.5h1M18 47.5h1M46 47.5h1M51 47.5h1M55 47.5h1M59 47.5h2M63 47.5h1M1 48.5h2M5 48.5h2M9 48.5h2M14 48.5h1M19 48.5h1M45 48.5h1M50 48.5h1M54 48.5h2M58 48.5h2M62 48.5h2M1 49.5h2M5 49.5h2M10 49.5h1M15 49.5h1M20 49.5h2M43 49.5h2M49 49.5h1M54 49.5h1M58 49.5h2M62 49.5h2M2 50.5h2M6 50.5h2M11 50.5h1M16 50.5h1M22 50.5h1M42 50.5h1M48 50.5h1M53 50.5h1M57 50.5h2M61 50.5h2M0 51.5h1M2 51.5h1M4 51.5h1M7 51.5h2M12 51.5h1M17 51.5h2M24 51.5h2M39 51.5h2M46 51.5h2M52 51.5h1M56 51.5h2M60 51.5h1M62 51.5h1M0 52.5h2M3 52.5h2M8 52.5h2M13 52.5h1M18 52.5h2M27 52.5h3M35 52.5h3M45 52.5h2M51 52.5h1M55 52.5h2M60 52.5h2M63 52.5h1M1 53.5h1M4 53.5h2M9 53.5h2M14 53.5h2M20 53.5h2M43 53.5h2M49 53.5h2M54 53.5h2M59 53.5h2M63 53.5h1M0 54.5h1M2 54.5h1M5 54.5h2M10 54.5h2M15 54.5h2M22 54.5h2M41 54.5h2M48 54.5h2M53 54.5h2M58 54.5h2M62 54.5h1M0 55.5h2M3 55.5h1M5 55.5h3M11 55.5h2M17 55.5h2M25 55.5h3M37 55.5h3M46 55.5h2M52 55.5h2M57 55.5h3M61 55.5h1M63 55.5h1M0 56.5h5M6 56.5h3M12 56.5h2M18 56.5h3M29 56.5h7M44 56.5h3M51 56.5h2M56 56.5h3M60 56.5h4M0 57.5h6M7 57.5h3M13 57.5h3M20 57.5h3M42 57.5h3M49 57.5h3M55 57.5h3M59 57.5h5M1 58.5h6M8 58.5h3M14 58.5h3M22 58.5h4M39 58.5h4M48 58.5h3M54 58.5h3M58 58.5h6M0 59.5h1M2 59.5h6M10 59.5h3M16 59.5h3M26 59.5h13M46 59.5h3M52 59.5h3M57 59.5h6M0 60.5h9M11 60.5h1M13 60.5h1M18 60.5h3M44 60.5h3M51 60.5h1M53 60.5h1M56 60.5h8M0 61.5h8M9 61.5h1M12 61.5h4M20 61.5h5M40 61.5h5M49 61.5h4M55 61.5h1M57 61.5h7M0 62.5h4M5 62.5h4M10 62.5h2M14 62.5h4M23 62.5h8M34 62.5h8M47 62.5h4M53 62.5h2M56 62.5h4M61 62.5h3M1 63.5h4M6 63.5h4M11 63.5h2M16 63.5h4M27 63.5h11M45 63.5h4M52 63.5h2M55 63.5h4M60 63.5h4"/><path stroke="#300000" d="M58 0.5h1M58 1.5h1M58 5.5h1M59 6.5h1M60 7.5h3M3 11.5h3M2 12.5h1M5 12.5h1M1 13.5h1M6 13.5h1M0 14.5h1M6 14.5h1M0 15.5h1M6 15.5h1M0 16.5h1M5 17.5h1M1 18.5h1M5 18.5h1M1 19.5h1M4 19.5h1M1 20.5h3M1 21.5h1M1 25.5h3M1 26.5h3M5 32.5h2M10 32.5h1M18 32.5h1M21 32.5h1M43 32.5h1M46 32.5h1M54 32.5h1M58 32.5h2M5 33.5h2M10 33.5h1M18 33.5h1M21 33.5h1M43 33.5h1M46 33.5h1M54 33.5h1M58 33.5h2M6 34.5h1M10 34.5h1M15 34.5h1M49 34.5h1M54 34.5h1M58 34.5h1M6 35.5h1M9 35.5h2M12 35.5h1M14 35.5h1M22 35.5h1M42 35.5h1M50 35.5h1M52 35.5h1M54 35.5h2M58 35.5h1M6 36.5h1M9 36.5h2M12 36.5h1M14 36.5h1M18 36.5h1M22 36.5h1M42 36.5h1M46 36.5h1M50 36.5h1M52 36.5h1M54 36.5h2M58 36.5h1M6 37.5h1M9 37.5h1M23 37.5h1M41 37.5h1M55 37.5h1M58 37.5h1M6 38.5h2M11 38.5h1M15 38.5h1M19 38.5h1M45 38.5h1M49 38.5h1M53 38.5h1M57 38.5h2M7 39.5h1M10 39.5h2M13 39.5h1M51 39.5h1M53 39.5h2M57 39.5h1M7 40.5h1M10 40.5h1M26 40.5h1M38 40.5h1M54 40.5h1M57 40.5h1M7 41.5h2M12 41.5h1M14 41.5h1M21 41.5h2M27 41.5h2M36 41.5h2M42 41.5h2M50 41.5h1M52 41.5h1M56 41.5h2M8 42.5h1M11 42.5h1M17 42.5h1M22 42.5h1M30 42.5h5M42 42.5h1M47 42.5h1M53 42.5h1M56 42.5h1M8 43.5h2M12 43.5h2M18 43.5h1M46 43.5h1M51 43.5h2M55 43.5h2M9 44.5h1M12 44.5h1M14 44.5h1M16 44.5h1M19 44.5h1M25 44.5h1M39 44.5h1M45 44.5h1M48 44.5h1M50 44.5h1M52 44.5h1M55 44.5h1M9 45.5h2M13 45.5h1M15 45.5h1M17 45.5h1M20 45.5h1M27 45.5h1M30 45.5h5M37 45.5h1M44 45.5h1M47 45.5h1M49 45.5h1M51 45.5h1M54 45.5h2M10 46.5h2M14 46.5h1M18 46.5h1M21 46.5h1M43 46.5h1M46 46.5h1M50 46.5h1M53 46.5h2M11 47.5h1M15 47.5h2M19 47.5h1M45 47.5h1M48 47.5h2M53 47.5h1M11 48.5h2M16 48.5h1M18 48.5h1M25 48.5h1M29 48.5h1M35 48.5h1M39 48.5h1M46 48.5h1M48 48.5h1M52 48.5h2M12 49.5h2M17 49.5h1M19 49.5h1M22 49.5h1M27 49.5h2M36 49.5h2M42 49.5h1M45 49.5h1M47 49.5h1M51 49.5h2M13 50.5h2M18 50.5h1M20 50.5h1M24 50.5h1M40 50.5h1M44 50.5h1M46 50.5h1M50 50.5h2M14 51.5h2M19 51.5h2M22 51.5h1M27 51.5h2M36 51.5h2M42 51.5h1M44 51.5h2M49 51.5h2M15 52.5h3M21 52.5h1M24 52.5h2M39 52.5h2M43 52.5h1M47 52.5h3M17 53.5h2M23 53.5h2M27 53.5h5M33 53.5h5M40 53.5h2M46 53.5h2M18 54.5h3M26 54.5h3M36 54.5h3M44 54.5h3M20 55.5h3M32 55.5h1M42 55.5h3M22 56.5h4M39 56.5h4M25 57.5h15M30 58.5h5"/><path stroke="#3a0000" d="M0 0.5h2M57 0.5h1M0 1.5h2M57 1.5h1M57 2.5h1M57 3.5h1M57 4.5h1M57 5.5h1M58 6.5h1M59 7.5h1M63 7.5h1M3 10.5h4M2 11.5h1M6 11.5h4M1 12.5h1M6 12.5h2M0 13.5h1M7 13.5h1M7 14.5h1M6 16.5h1M0 17.5h1M6 17.5h1M0 18.5h1M0 19.5h1M5 19.5h1M0 20.5h1M4 20.5h1M0 21.5h1M2 21.5h2M0 22.5h4M0 23.5h3M0 24.5h4M0 25.5h1M0 26.5h1M1 27.5h2M9 32.5h1M12 32.5h2M15 32.5h1M17 32.5h1M47 32.5h1M49 32.5h1M51 32.5h2M55 32.5h1M9 33.5h1M12 33.5h2M15 33.5h1M17 33.5h1M47 33.5h1M49 33.5h1M51 33.5h2M55 33.5h1M9 34.5h1M12 34.5h2M21 34.5h1M25 34.5h1M39 34.5h1M43 34.5h1M51 34.5h2M55 34.5h1M13 35.5h1M51 35.5h1M13 36.5h1M19 36.5h1M45 36.5h1M51 36.5h1M10 37.5h1M13 37.5h2M16 37.5h1M18 37.5h1M46 37.5h1M48 37.5h1M50 37.5h2M54 37.5h1M10 38.5h1M13 38.5h2M20 38.5h1M23 38.5h2M29 38.5h1M35 38.5h1M40 38.5h2M44 38.5h1M50 38.5h2M54 38.5h1M14 39.5h2M17 39.5h1M24 39.5h2M39 39.5h2M47 39.5h1M49 39.5h2M11 40.5h1M14 40.5h2M20 40.5h1M25 40.5h1M39 40.5h1M44 40.5h1M49 40.5h2M53 40.5h1M11 41.5h1M15 41.5h2M18 41.5h1M46 41.5h1M48 41.5h2M53 41.5h1M12 42.5h1M15 42.5h2M19 42.5h1M29 42.5h1M35 42.5h1M45 42.5h1M48 42.5h2M52 42.5h1M16 43.5h2M20 43.5h1M23 43.5h1M25 43.5h1M39 43.5h1M41 43.5h1M44 43.5h1M47 43.5h2M13 44.5h1M17 44.5h2M21 44.5h1M27 44.5h1M37 44.5h1M43 44.5h1M46 44.5h2M51 44.5h1M14 45.5h1M18 45.5h2M22 45.5h1M26 45.5h1M38 45.5h1M42 45.5h1M45 45.5h2M50 45.5h1M15 46.5h1M19 46.5h2M24 46.5h1M30 46.5h5M40 46.5h1M44 46.5h2M49 46.5h1M20 47.5h3M26 47.5h1M38 47.5h1M42 47.5h3M17 48.5h1M21 48.5h4M30 48.5h5M40 48.5h4M47 48.5h1M18 49.5h1M23 49.5h4M38 49.5h4M46 49.5h1M19 50.5h1M25 50.5h15M45 50.5h1M21 51.5h1M29 51.5h7M43 51.5h1M22 52.5h2M41 52.5h2M25 53.5h2M38 53.5h2M29 54.5h7"/><path stroke="#430000" d="M2 0.5h1M10 0.5h3M38 0.5h2M54 0.5h3M2 1.5h1M54 1.5h3M0 2.5h2M55 2.5h2M55 3.5h2M56 4.5h1M56 5.5h1M56 6.5h2M57 7.5h2M58 8.5h6M4 9.5h6M38 9.5h2M1 10.5h2M7 10.5h7M38 10.5h2M0 11.5h2M10 11.5h5M38 11.5h2M0 12.5h1M8 12.5h8M8 13.5h9M8 14.5h1M14 14.5h2M7 15.5h1M7 16.5h1M6 18.5h1M6 19.5h1M5 20.5h1M4 21.5h2M4 22.5h2M3 23.5h2M4 24.5h1M4 25.5h1M4 26.5h1M0 27.5h1M3 27.5h1M1 28.5h1M0 30.5h2M0 31.5h2M28 32.5h1M36 32.5h1M25 33.5h1M39 33.5h1M17 34.5h1M47 34.5h1M16 35.5h2M19 35.5h1M31 35.5h3M45 35.5h1M47 35.5h2M16 36.5h1M26 36.5h1M38 36.5h1M48 36.5h1M27 37.5h1M37 37.5h1M17 38.5h2M30 38.5h1M34 38.5h1M46 38.5h2M19 39.5h1M21 39.5h1M43 39.5h1M45 39.5h1M18 40.5h1M46 40.5h1M20 41.5h1M44 41.5h1M21 42.5h1M24 42.5h1M40 42.5h1M43 42.5h1M22 43.5h1M42 43.5h1M24 44.5h1M28 44.5h1M36 44.5h1M40 44.5h1M23 45.5h1M25 45.5h1M39 45.5h1M41 45.5h1M25 46.5h1M28 46.5h2M35 46.5h2M39 46.5h1M27 47.5h2M36 47.5h2"/><path stroke="#4d0000" d="M3 0.5h2M8 0.5h2M13 0.5h3M20 0.5h3M36 0.5h2M40 0.5h2M53 0.5h1M3 1.5h1M8 1.5h8M20 1.5h3M36 1.5h6M53 1.5h1M2 2.5h2M10 2.5h6M20 2.5h4M37 2.5h5M53 2.5h2M0 3.5h3M19 3.5h5M37 3.5h9M52 3.5h3M19 4.5h9M38 4.5h18M19 5.5h10M38 5.5h18M20 6.5h8M38 6.5h18M21 7.5h3M37 7.5h20M2 8.5h2M9 8.5h3M13 8.5h2M36 8.5h22M0 9.5h4M10 9.5h6M36 9.5h2M40 9.5h3M45 9.5h19M0 10.5h1M14 10.5h2M36 10.5h2M40 10.5h2M47 10.5h7M15 11.5h2M36 11.5h2M40 11.5h2M47 11.5h6M16 12.5h1M37 12.5h4M48 12.5h5M50 13.5h1M9 14.5h5M16 14.5h1M8 15.5h2M14 15.5h2M8 16.5h1M57 16.5h3M7 17.5h1M57 17.5h3M7 18.5h1M7 19.5h1M6 20.5h2M6 21.5h2M6 22.5h2M5 23.5h2M5 24.5h1M4 27.5h1M0 28.5h1M2 28.5h2M0 29.5h3M2 30.5h1M2 31.5h2M60 31.5h4M16 32.5h1M48 32.5h1M16 33.5h1M48 33.5h1M16 34.5h1M19 34.5h1M22 34.5h1M42 34.5h1M45 34.5h1M48 34.5h1M21 35.5h1M26 35.5h1M38 35.5h1M43 35.5h1M17 36.5h1M47 36.5h1M17 37.5h1M20 37.5h1M22 37.5h1M28 37.5h1M36 37.5h1M42 37.5h1M44 37.5h1M47 37.5h1M18 39.5h1M32 39.5h1M46 39.5h1M19 40.5h1M22 40.5h1M42 40.5h1M45 40.5h1M19 41.5h1M23 41.5h1M26 41.5h1M29 41.5h1M35 41.5h1M38 41.5h1M41 41.5h1M45 41.5h1M20 42.5h1M28 42.5h1M36 42.5h1M44 42.5h1M21 43.5h1M26 43.5h1M38 43.5h1M43 43.5h1M22 44.5h2M29 44.5h1M35 44.5h1M41 44.5h2M24 45.5h1M40 45.5h1M26 46.5h2M37 46.5h2M29 47.5h7"/><path stroke="#560000" d="M5 0.5h3M16 0.5h4M23 0.5h2M32 0.5h4M42 0.5h4M52 0.5h1M4 1.5h4M16 1.5h4M23 1.5h2M32 1.5h4M42 1.5h4M52 1.5h1M4 2.5h6M16 2.5h4M24 2.5h2M33 2.5h4M42 2.5h6M51 2.5h2M3 3.5h1M9 3.5h10M24 3.5h3M34 3.5h3M46 3.5h6M0 4.5h3M13 4.5h6M28 4.5h3M35 4.5h3M0 5.5h2M14 5.5h5M29 5.5h3M35 5.5h3M0 6.5h3M13 6.5h7M28 6.5h10M0 7.5h5M8 7.5h13M24 7.5h13M0 8.5h2M4 8.5h5M12 8.5h1M15 8.5h11M28 8.5h8M16 9.5h20M43 9.5h2M16 10.5h2M21 10.5h1M25 10.5h11M42 10.5h5M54 10.5h10M17 11.5h1M26 11.5h6M34 11.5h2M42 11.5h5M53 11.5h11M17 12.5h1M26 12.5h5M35 12.5h2M41 12.5h7M53 12.5h11M17 13.5h1M28 13.5h2M38 13.5h12M51 13.5h13M17 14.5h1M43 14.5h21M10 15.5h4M16 15.5h2M43 15.5h4M55 15.5h9M9 16.5h2M13 16.5h5M44 16.5h3M55 16.5h2M60 16.5h1M63 16.5h1M8 17.5h2M15 17.5h3M44 17.5h2M56 17.5h1M60 17.5h1M8 18.5h2M16 18.5h2M56 18.5h5M8 19.5h2M15 19.5h3M58 19.5h3M8 20.5h3M14 20.5h5M59 20.5h3M8 21.5h4M13 21.5h5M59 21.5h4M8 22.5h10M59 22.5h4M7 23.5h3M59 23.5h3M6 24.5h2M5 25.5h1M5 26.5h1M3 29.5h1M3 30.5h1M60 30.5h4M4 31.5h1M59 31.5h1M19 32.5h2M24 32.5h2M39 32.5h2M44 32.5h2M19 33.5h2M22 33.5h1M42 33.5h1M44 33.5h2M29 34.5h1M35 34.5h1M25 35.5h1M39 35.5h1M20 36.5h2M23 36.5h1M27 36.5h1M37 36.5h1M41 36.5h1M43 36.5h2M21 38.5h2M28 38.5h1M31 38.5h1M33 38.5h1M36 38.5h1M42 38.5h2M23 39.5h1M31 39.5h1M33 39.5h1M41 39.5h1M24 40.5h1M27 40.5h1M37 40.5h1M40 40.5h1M25 41.5h1M30 41.5h1M34 41.5h1M39 41.5h1M25 42.5h1M27 42.5h1M37 42.5h1M39 42.5h1M27 43.5h1M30 43.5h5M37 43.5h1M30 44.5h5"/><path stroke="#5f0000" d="M25 0.5h2M29 0.5h3M46 0.5h6M25 1.5h2M29 1.5h3M46 1.5h6M26 2.5h7M48 2.5h3M4 3.5h5M27 3.5h7M3 4.5h10M31 4.5h4M2 5.5h12M32 5.5h3M3 6.5h10M5 7.5h3M26 8.5h2M18 10.5h3M22 10.5h3M18 11.5h8M32 11.5h2M18 12.5h8M31 12.5h4M18 13.5h10M30 13.5h8M18 14.5h4M25 14.5h10M41 14.5h2M18 15.5h3M26 15.5h3M42 15.5h1M47 15.5h8M11 16.5h2M18 16.5h2M43 16.5h1M47 16.5h2M50 16.5h5M61 16.5h2M10 17.5h5M18 17.5h2M43 17.5h1M46 17.5h2M52 17.5h4M61 17.5h3M10 18.5h6M18 18.5h3M44 18.5h4M54 18.5h2M61 18.5h3M10 19.5h5M18 19.5h3M56 19.5h2M61 19.5h3M11 20.5h3M19 20.5h1M57 20.5h2M62 20.5h2M12 21.5h1M18 21.5h2M58 21.5h1M63 21.5h1M18 22.5h1M58 22.5h1M63 22.5h1M10 23.5h8M58 23.5h1M62 23.5h2M8 24.5h4M58 24.5h5M6 25.5h2M60 25.5h3M50 26.5h2M5 27.5h1M49 27.5h3M4 28.5h1M50 28.5h2M4 29.5h1M60 29.5h4M4 30.5h2M58 30.5h2M5 31.5h2M58 31.5h1M22 32.5h1M42 32.5h1M24 33.5h1M40 33.5h1M20 34.5h1M44 34.5h1M20 35.5h1M44 35.5h1M21 37.5h1M24 37.5h1M40 37.5h1M43 37.5h1M32 38.5h1M22 39.5h1M26 39.5h1M30 39.5h1M34 39.5h1M38 39.5h1M42 39.5h1M23 40.5h1M41 40.5h1M24 41.5h1M31 41.5h3M40 41.5h1M26 42.5h1M38 42.5h1M28 43.5h2M35 43.5h2"/><path stroke="#690000" d="M27 0.5h2M27 1.5h2M22 14.5h3M35 14.5h6M21 15.5h5M29 15.5h6M41 15.5h1M20 16.5h9M42 16.5h1M49 16.5h1M20 17.5h3M42 17.5h1M48 17.5h4M21 18.5h1M43 18.5h1M48 18.5h6M21 19.5h1M44 19.5h12M20 20.5h2M47 20.5h10M20 21.5h1M48 21.5h10M19 22.5h1M49 22.5h4M56 22.5h2M18 23.5h1M49 23.5h4M56 23.5h2M12 24.5h6M49 24.5h4M56 24.5h2M63 24.5h1M8 25.5h4M48 25.5h6M57 25.5h3M63 25.5h1M6 26.5h2M48 26.5h2M52 26.5h2M57 26.5h7M6 27.5h1M48 27.5h1M52 27.5h2M58 27.5h6M5 28.5h2M48 28.5h2M52 28.5h2M58 28.5h6M5 29.5h2M49 29.5h4M57 29.5h3M6 30.5h2M56 30.5h2M7 31.5h1M56 31.5h2M28 33.5h2M35 33.5h2M30 34.5h1M34 34.5h1M23 35.5h1M30 35.5h1M34 35.5h1M41 35.5h1M26 37.5h1M38 37.5h1M25 38.5h1M39 38.5h1M28 40.5h1M36 40.5h1"/><path stroke="#720000" d="M35 15.5h2M40 15.5h1M29 16.5h6M41 16.5h1M23 17.5h6M22 18.5h3M42 18.5h1M22 19.5h2M43 19.5h1M22 20.5h1M45 20.5h2M21 21.5h1M46 21.5h2M20 22.5h1M47 22.5h2M53 22.5h3M19 23.5h1M47 23.5h2M53 23.5h3M18 24.5h1M47 24.5h2M53 24.5h3M12 25.5h6M47 25.5h1M54 25.5h3M8 26.5h6M47 26.5h1M54 26.5h3M7 27.5h3M47 27.5h1M54 27.5h4M7 28.5h3M47 28.5h1M54 28.5h4M7 29.5h3M48 29.5h1M53 29.5h4M8 30.5h2M49 30.5h7M8 31.5h2M52 31.5h4M23 34.5h2M40 34.5h2M24 36.5h2M39 36.5h2M27 38.5h1M37 38.5h1M27 39.5h1M29 39.5h1M35 39.5h1M37 39.5h1M29 40.5h1M35 40.5h1"/><path stroke="#7c0000" d="M37 15.5h3M35 16.5h2M40 16.5h1M29 17.5h3M41 17.5h1M25 18.5h2M24 19.5h1M42 19.5h1M23 20.5h1M43 20.5h2M22 21.5h1M45 21.5h1M21 22.5h1M46 22.5h1M20 23.5h1M46 23.5h1M19 24.5h1M46 24.5h1M18 25.5h1M46 25.5h1M14 26.5h4M46 26.5h1M10 27.5h7M46 27.5h1M10 28.5h6M10 29.5h4M47 29.5h1M10 30.5h3M47 30.5h2M10 31.5h2M49 31.5h3M23 32.5h1M41 32.5h1M23 33.5h1M41 33.5h1M26 34.5h1M38 34.5h1M24 35.5h1M40 35.5h1M25 37.5h1M29 37.5h1M35 37.5h1M39 37.5h1M26 38.5h1M38 38.5h1M28 39.5h1M36 39.5h1M30 40.5h5"/><path stroke="#850000" d="M37 16.5h3M32 17.5h5M40 17.5h1M27 18.5h3M41 18.5h1M25 19.5h2M41 19.5h1M24 20.5h1M42 20.5h1M23 21.5h1M43 21.5h2M22 22.5h1M44 22.5h2M21 23.5h1M45 23.5h1M20 24.5h1M45 24.5h1M19 25.5h1M45 25.5h1M18 26.5h1M45 26.5h1M17 27.5h1M45 27.5h1M16 28.5h2M46 28.5h1M14 29.5h3M46 29.5h1M13 30.5h4M46 30.5h1M12 31.5h5M46 31.5h3"/><path stroke="#8f0000" d="M37 17.5h3M30 18.5h7M39 18.5h2M27 19.5h1M40 19.5h1M25 20.5h1M41 20.5h1M24 21.5h1M42 21.5h1M23 22.5h1M43 22.5h1M22 23.5h1M44 23.5h1M21 24.5h1M44 24.5h1M20 25.5h1M44 25.5h1M19 26.5h1M44 26.5h1M18 27.5h1M18 28.5h1M45 28.5h1M17 29.5h1M45 29.5h1M17 30.5h1M45 30.5h1M17 31.5h1M45 31.5h1"/><path stroke="#980000" d="M37 18.5h2M28 19.5h3M34 19.5h2M38 19.5h2M26 20.5h1M40 20.5h1M25 21.5h1M41 21.5h1M24 22.5h1M42 22.5h1M23 23.5h1M43 23.5h1M22 24.5h1M43 24.5h1M21 25.5h1M43 25.5h1M20 26.5h1M19 27.5h1M44 27.5h1M19 28.5h1M44 28.5h1M18 29.5h2M44 29.5h1M18 30.5h1M18 31.5h1M26 33.5h1M38 33.5h1M27 35.5h1M37 35.5h1M28 36.5h1M36 36.5h1M30 37.5h1M34 37.5h1"/><path stroke="#a10000" d="M31 19.5h3M36 19.5h2M27 20.5h2M38 20.5h2M26 21.5h1M40 21.5h1M41 22.5h1M42 23.5h1M42 24.5h1M21 26.5h1M43 26.5h1M20 27.5h1M43 27.5h1M20 28.5h1M19 30.5h1M44 30.5h1M19 31.5h1M44 31.5h1M28 34.5h1M36 34.5h1M29 35.5h1M35 35.5h1M32 36.5h1"/><path stroke="#ab0000" d="M29 20.5h9M27 21.5h1M38 21.5h2M25 22.5h1M40 22.5h1M24 23.5h1M41 23.5h1M23 24.5h1M41 24.5h1M22 25.5h1M42 25.5h1M42 26.5h1M21 27.5h1M43 28.5h1M20 29.5h1M43 29.5h1M20 30.5h1M43 30.5h1M20 31.5h1M43 31.5h1M26 32.5h2M37 32.5h2M31 36.5h1M33 36.5h1M31 37.5h3"/><path stroke="#b40000" d="M28 21.5h1M36 21.5h2M26 22.5h1M38 22.5h2M25 23.5h1M40 23.5h1M24 24.5h1M23 25.5h1M41 25.5h1M22 26.5h1M22 27.5h1M42 27.5h1M21 28.5h1M21 29.5h1M21 30.5h1M21 31.5h1M27 33.5h1M37 33.5h1M27 34.5h1M37 34.5h1M28 35.5h1M36 35.5h1M29 36.5h2M34 36.5h2"/><path stroke="#be0000" d="M29 21.5h7M27 22.5h1M37 22.5h1M26 23.5h1M39 23.5h1M40 24.5h1M24 25.5h1M23 26.5h1M41 26.5h1M22 28.5h1M42 28.5h1M22 29.5h1M42 29.5h1M42 30.5h1M42 31.5h1"/><path stroke="#c70000" d="M28 22.5h2M35 22.5h2M27 23.5h1M38 23.5h1M25 24.5h1M39 24.5h1M40 25.5h1M23 27.5h1M41 27.5h1M41 28.5h1M22 30.5h1M22 31.5h1M29 32.5h1M35 32.5h1M31 34.5h1M33 34.5h1"/><path stroke="#d10000" d="M30 22.5h5M28 23.5h1M36 23.5h2M26 24.5h1M38 24.5h1M25 25.5h1M39 25.5h1M24 26.5h1M40 26.5h1M24 27.5h1M40 27.5h1M23 28.5h1M23 29.5h1M41 29.5h1M23 30.5h1M41 30.5h1M23 31.5h1M41 31.5h1"/><path stroke="#da0000" d="M29 23.5h1M35 23.5h1M27 24.5h1M37 24.5h1M26 25.5h1M38 25.5h1M25 26.5h1M39 26.5h1M24 28.5h1M40 28.5h1"/><path stroke="#e30000" d="M30 23.5h5M28 24.5h1M36 24.5h1M25 27.5h1M39 27.5h1M24 29.5h1M40 29.5h1M24 30.5h1M40 30.5h1M24 31.5h1M40 31.5h1"/><path stroke="#ed0000" d="M29 24.5h1M35 24.5h1M27 25.5h1M37 25.5h1M26 26.5h1M38 26.5h1M25 28.5h1M39 28.5h1M32 34.5h1"/><path stroke="#f60000" d="M30 24.5h5M28 25.5h1M36 25.5h1M27 26.5h1M37 26.5h1M26 27.5h1M38 27.5h1M25 29.5h1M39 29.5h1M25 30.5h1M39 30.5h1M25 31.5h1M39 31.5h1"/><path stroke="#ff0100" d="M29 25.5h2M34 25.5h2M28 26.5h1M36 26.5h1M27 27.5h1M37 27.5h1M26 28.5h1M38 28.5h1M26 29.5h1M38 29.5h1"/><path stroke="#ff0a00" d="M31 25.5h3M29 26.5h1M35 26.5h1M27 28.5h1M37 28.5h1M26 30.5h1M38 30.5h1M26 31.5h1M38 31.5h1"/><path stroke="#ff1400" d="M28 27.5h1M36 27.5h1M30 33.5h1M34 33.5h1"/><path stroke="#ff1d00" d="M30 26.5h1M34 26.5h1M27 29.5h1M37 29.5h1"/><path stroke="#ff2600" d="M31 26.5h3M29 27.5h1M35 27.5h1M28 28.5h1M36 28.5h1M27 30.5h1M37 30.5h1M27 31.5h1M37 31.5h1"/><path stroke="#ff5600" d="M30 27.5h1M34 27.5h1M28 29.5h1M36 29.5h1"/><path stroke="#ff6800" d="M29 28.5h1M35 28.5h1"/><path stroke="#ff7200" d="M31 27.5h1M33 27.5h1M28 30.5h1M36 30.5h1"/><path stroke="#ff7b00" d="M32 27.5h1M28 31.5h1M36 31.5h1"/><path stroke="#ff9800" d="M30 32.5h1M34 32.5h1M31 33.5h1M33 33.5h1"/><path stroke="#ffa100" d="M30 28.5h1M34 28.5h1M29 29.5h1M35 29.5h1"/><path stroke="#ffc700" d="M31 28.5h1M33 28.5h1M29 30.5h1M35 30.5h1M32 33.5h1"/><path stroke="#ffd000" d="M32 28.5h1M29 31.5h1M35 31.5h1"/><path stroke="#ffe300" d="M30 29.5h1M34 29.5h1"/><path stroke="#ffff1d" d="M31 29.5h1M33 29.5h1M30 30.5h1M34 30.5h1"/><path stroke="#ffff39" d="M32 29.5h1M30 31.5h1M34 31.5h1"/><path stroke="#ffff55" d="M31 32.5h1M33 32.5h1"/><path stroke="#ffff8e" d="M31 30.5h1M33 30.5h1"/><path stroke="#ffffaa" d="M32 32.5h1"/><path stroke="#ffffc6" d="M32 30.5h1M31 31.5h1M33 31.5h1"/><path stroke="#ffffff" d="M32 31.5h1"/></g>
<g transform="translate(40.3 1589.2) scale(6.71563)" shape-rendering="crispEdges" stroke-width="1.02" fill="none"><rect width="64" height="64" fill="#140000"/><path stroke="#1d0000" d="M1 0.5h1M55 0.5h1M54 1.5h2M9 32.5h1M12 32.5h3M50 32.5h3M55 32.5h1M9 33.5h1M12 33.5h3M50 33.5h3M55 33.5h1M9 34.5h2M12 34.5h4M18 34.5h1M46 34.5h1M49 34.5h4M54 34.5h2M10 35.5h1M12 35.5h4M18 35.5h1M46 35.5h1M49 35.5h4M54 35.5h1M10 36.5h1M12 36.5h4M49 36.5h4M54 36.5h1M10 37.5h1M13 37.5h3M19 37.5h1M45 37.5h1M49 37.5h3M54 37.5h1M10 38.5h1M13 38.5h4M19 38.5h1M45 38.5h1M48 38.5h4M54 38.5h1M11 39.5h1M13 39.5h4M20 39.5h1M44 39.5h1M48 39.5h4M53 39.5h1M11 40.5h1M14 40.5h4M21 40.5h1M43 40.5h1M47 40.5h4M53 40.5h1M12 41.5h1M14 41.5h5M46 41.5h5M52 41.5h1M12 42.5h1M15 42.5h4M23 42.5h1M41 42.5h1M46 42.5h4M52 42.5h1M13 43.5h1M15 43.5h5M24 43.5h1M40 43.5h1M45 43.5h5M51 43.5h1M13 44.5h2M16 44.5h5M25 44.5h2M38 44.5h2M44 44.5h5M50 44.5h2M14 45.5h1M17 45.5h6M28 45.5h2M35 45.5h2M42 45.5h6M50 45.5h1M15 46.5h1M18 46.5h6M41 46.5h6M49 46.5h1M16 47.5h1M19 47.5h7M39 47.5h7M48 47.5h1M17 48.5h1M20 48.5h10M35 48.5h10M47 48.5h1M18 49.5h2M22 49.5h21M45 49.5h2M19 50.5h2M24 50.5h17M44 50.5h2M21 51.5h2M27 51.5h11M42 51.5h2M23 52.5h2M40 52.5h2M25 53.5h5M35 53.5h5M29 54.5h7"/><path stroke="#270000" d="M0 0.5h1M2 0.5h1M53 0.5h1M56 0.5h1M0 1.5h3M53 1.5h1M56 1.5h1M15 32.5h1M17 32.5h2M21 32.5h1M43 32.5h1M46 32.5h2M49 32.5h1M15 33.5h1M17 33.5h2M21 33.5h1M43 33.5h1M46 33.5h2M49 33.5h1M17 34.5h1M47 34.5h1M16 35.5h1M48 35.5h1M16 36.5h1M18 36.5h2M22 36.5h1M42 36.5h1M45 36.5h2M48 36.5h1M16 37.5h1M18 37.5h1M46 37.5h1M48 37.5h1M17 38.5h1M20 38.5h1M44 38.5h1M47 38.5h1M17 39.5h1M19 39.5h1M45 39.5h1M47 39.5h1M18 40.5h1M20 40.5h1M44 40.5h1M46 40.5h1M21 41.5h2M27 41.5h1M37 41.5h1M42 41.5h2M19 42.5h1M22 42.5h1M30 42.5h5M42 42.5h1M45 42.5h1M20 43.5h1M23 43.5h1M25 43.5h1M39 43.5h1M41 43.5h1M44 43.5h1M21 44.5h1M24 44.5h1M27 44.5h1M37 44.5h1M40 44.5h1M43 44.5h1M23 45.5h1M26 45.5h2M30 45.5h5M37 45.5h2M41 45.5h1M24 46.5h2M29 46.5h7M39 46.5h2M26 47.5h3M36 47.5h3M30 48.5h5"/><path stroke="#300000" d="M3 0.5h1M3 1.5h1M16 32.5h1M48 32.5h1M16 33.5h1M48 33.5h1M16 34.5h1M21 34.5h1M43 34.5h1M48 34.5h1M17 35.5h1M19 35.5h1M22 35.5h1M42 35.5h1M45 35.5h1M47 35.5h1M17 36.5h1M47 36.5h1M17 37.5h1M23 37.5h1M41 37.5h1M47 37.5h1M18 38.5h1M23 38.5h2M40 38.5h2M46 38.5h1M18 39.5h1M21 39.5h1M24 39.5h2M39 39.5h2M43 39.5h1M46 39.5h1M19 40.5h1M25 40.5h2M38 40.5h2M45 40.5h1M19 41.5h2M28 41.5h1M36 41.5h1M44 41.5h2M20 42.5h2M24 42.5h1M29 42.5h1M35 42.5h1M40 42.5h1M43 42.5h2M21 43.5h2M42 43.5h2M22 44.5h2M28 44.5h1M36 44.5h1M41 44.5h2M24 45.5h2M39 45.5h2M26 46.5h3M36 46.5h3M29 47.5h7"/><path stroke="#3a0000" d="M52 0.5h1M57 0.5h1M52 1.5h1M57 1.5h2M54 2.5h2M19 5.5h2M19 6.5h3M20 7.5h1M19 34.5h1M25 34.5h1M39 34.5h1M45 34.5h1M21 35.5h1M43 35.5h1M26 36.5h1M38 36.5h1M20 37.5h1M22 37.5h1M27 37.5h1M37 37.5h1M42 37.5h1M44 37.5h1M29 38.5h1M35 38.5h1M22 40.5h1M42 40.5h1M23 41.5h1M26 41.5h1M38 41.5h1M41 41.5h1M28 42.5h1M36 42.5h1M26 43.5h1M38 43.5h1M29 44.5h1M35 44.5h1"/><path stroke="#430000" d="M4 0.5h2M20 0.5h4M34 0.5h8M58 0.5h1M4 1.5h1M20 1.5h3M34 1.5h7M59 1.5h1M0 2.5h3M20 2.5h2M34 2.5h3M53 2.5h1M56 2.5h2M19 3.5h2M18 4.5h4M15 5.5h4M21 5.5h1M18 6.5h1M18 7.5h2M21 7.5h1M20 8.5h1M0 9.5h1M30 9.5h1M0 10.5h2M29 10.5h2M0 11.5h1M29 11.5h2M0 12.5h1M0 13.5h1M5 20.5h1M60 25.5h1M19 32.5h2M44 32.5h2M19 33.5h2M25 33.5h1M39 33.5h1M44 33.5h2M20 34.5h1M22 34.5h1M42 34.5h1M44 34.5h1M20 35.5h1M32 35.5h1M44 35.5h1M20 36.5h2M23 36.5h1M41 36.5h1M43 36.5h2M21 37.5h1M43 37.5h1M21 38.5h2M30 38.5h1M34 38.5h1M42 38.5h2M22 39.5h2M41 39.5h2M23 40.5h2M27 40.5h1M37 40.5h1M40 40.5h2M24 41.5h2M29 41.5h1M35 41.5h1M39 41.5h2M25 42.5h3M37 42.5h3M27 43.5h11M30 44.5h5"/><path stroke="#4d0000" d="M6 0.5h2M18 0.5h2M24 0.5h3M33 0.5h1M42 0.5h1M59 0.5h1M5 1.5h3M18 1.5h2M23 1.5h4M33 1.5h1M41 1.5h2M60 1.5h1M3 2.5h3M18 2.5h2M22 2.5h4M33 2.5h1M37 2.5h5M52 2.5h1M58 2.5h2M16 3.5h3M21 3.5h2M32 3.5h6M14 4.5h4M22 4.5h1M29 4.5h8M14 5.5h1M22 5.5h1M29 5.5h7M50 5.5h1M14 6.5h4M22 6.5h1M29 6.5h6M14 7.5h4M22 7.5h1M28 7.5h5M60 7.5h1M0 8.5h2M14 8.5h6M21 8.5h2M27 8.5h6M59 8.5h3M1 9.5h2M15 9.5h8M26 9.5h4M31 9.5h1M59 9.5h3M2 10.5h1M18 10.5h4M25 10.5h4M31 10.5h1M59 10.5h3M1 11.5h2M26 11.5h3M31 11.5h1M59 11.5h3M1 12.5h2M27 12.5h5M59 12.5h3M1 13.5h2M28 13.5h4M58 13.5h3M0 14.5h3M28 14.5h4M55 14.5h5M0 15.5h3M29 15.5h2M54 15.5h5M0 16.5h4M54 16.5h6M0 17.5h5M54 17.5h7M0 18.5h7M54 18.5h8M1 19.5h7M54 19.5h8M2 20.5h3M6 20.5h2M14 20.5h2M54 20.5h8M2 21.5h5M54 21.5h8M2 22.5h5M55 22.5h7M0 23.5h2M55 23.5h7M0 24.5h2M55 24.5h7M0 25.5h1M56 25.5h4M61 25.5h2M0 26.5h1M55 26.5h7M54 27.5h7M9 28.5h3M54 28.5h4M7 29.5h7M54 29.5h4M7 30.5h9M54 30.5h4M7 31.5h9M54 31.5h4M24 32.5h1M28 32.5h1M36 32.5h1M40 32.5h1M22 33.5h1M42 33.5h1M25 35.5h2M31 35.5h1M33 35.5h1M38 35.5h2M28 37.5h1M36 37.5h1M28 38.5h1M36 38.5h1M31 39.5h3M30 41.5h1M34 41.5h1"/><path stroke="#560000" d="M8 0.5h4M17 0.5h1M27 0.5h2M32 0.5h1M43 0.5h1M51 0.5h1M60 0.5h1M8 1.5h3M17 1.5h1M27 1.5h2M32 1.5h1M43 1.5h1M51 1.5h1M6 2.5h2M16 2.5h2M26 2.5h7M42 2.5h1M51 2.5h1M60 2.5h2M0 3.5h7M14 3.5h2M23 3.5h9M38 3.5h4M50 3.5h12M3 4.5h3M13 4.5h1M23 4.5h2M26 4.5h3M37 4.5h2M49 4.5h15M13 5.5h1M23 5.5h1M27 5.5h2M36 5.5h2M49 5.5h1M51 5.5h4M56 5.5h8M0 6.5h4M13 6.5h1M23 6.5h1M27 6.5h2M35 6.5h2M48 6.5h7M56 6.5h8M0 7.5h4M13 7.5h1M23 7.5h5M33 7.5h3M48 7.5h7M56 7.5h4M61 7.5h3M2 8.5h2M13 8.5h1M23 8.5h4M33 8.5h1M47 8.5h7M57 8.5h2M62 8.5h2M3 9.5h1M13 9.5h2M23 9.5h3M32 9.5h1M44 9.5h6M57 9.5h2M62 9.5h1M3 10.5h1M13 10.5h5M22 10.5h3M32 10.5h1M44 10.5h5M57 10.5h2M62 10.5h1M3 11.5h1M13 11.5h13M32 11.5h1M44 11.5h5M56 11.5h3M62 11.5h1M3 12.5h1M22 12.5h5M32 12.5h1M43 12.5h5M54 12.5h5M62 12.5h1M3 13.5h2M25 13.5h3M32 13.5h1M43 13.5h5M53 13.5h5M61 13.5h2M3 14.5h3M27 14.5h1M32 14.5h1M41 14.5h7M53 14.5h2M60 14.5h4M3 15.5h4M27 15.5h2M31 15.5h2M40 15.5h8M53 15.5h1M59 15.5h5M4 16.5h4M28 16.5h4M40 16.5h7M53 16.5h1M60 16.5h3M5 17.5h3M39 17.5h7M53 17.5h1M61 17.5h2M7 18.5h2M39 18.5h4M53 18.5h1M62 18.5h1M0 19.5h1M8 19.5h1M13 19.5h7M40 19.5h3M53 19.5h1M62 19.5h1M0 20.5h2M8 20.5h1M12 20.5h2M16 20.5h5M40 20.5h3M53 20.5h1M62 20.5h1M0 21.5h2M7 21.5h2M12 21.5h7M53 21.5h1M62 21.5h1M0 22.5h2M7 22.5h2M13 22.5h4M52 22.5h3M62 22.5h1M2 23.5h7M50 23.5h5M62 23.5h1M2 24.5h2M49 24.5h6M62 24.5h2M1 25.5h3M49 25.5h7M63 25.5h1M1 26.5h3M9 26.5h3M49 26.5h6M62 26.5h2M0 27.5h4M7 27.5h7M51 27.5h3M61 27.5h3M0 28.5h9M12 28.5h5M52 28.5h2M58 28.5h5M0 29.5h7M14 29.5h4M52 29.5h2M58 29.5h1M0 30.5h7M16 30.5h2M52 30.5h2M58 30.5h1M0 31.5h7M16 31.5h2M52 31.5h2M58 31.5h1M22 32.5h1M25 32.5h1M39 32.5h1M42 32.5h1M24 33.5h1M40 33.5h1M29 34.5h1M35 34.5h1M27 36.5h1M37 36.5h1M24 37.5h1M40 37.5h1M25 38.5h1M31 38.5h1M33 38.5h1M39 38.5h1M26 39.5h1M30 39.5h1M34 39.5h1M38 39.5h1M31 41.5h3"/><path stroke="#5f0000" d="M12 0.5h1M16 0.5h1M29 0.5h3M44 0.5h4M50 0.5h1M61 0.5h1M11 1.5h3M16 1.5h1M29 1.5h3M44 1.5h4M50 1.5h1M61 1.5h2M8 2.5h8M43 2.5h8M62 2.5h2M7 3.5h2M12 3.5h2M42 3.5h2M47 3.5h3M62 3.5h2M0 4.5h3M6 4.5h2M12 4.5h1M25 4.5h1M39 4.5h4M47 4.5h2M0 5.5h8M12 5.5h1M24 5.5h3M38 5.5h2M47 5.5h2M55 5.5h1M4 6.5h4M12 6.5h1M24 6.5h3M37 6.5h2M47 6.5h1M55 6.5h1M4 7.5h4M12 7.5h1M36 7.5h2M46 7.5h2M55 7.5h1M4 8.5h4M12 8.5h1M34 8.5h2M43 8.5h4M54 8.5h3M4 9.5h9M33 9.5h1M43 9.5h1M50 9.5h7M63 9.5h1M4 10.5h9M33 10.5h1M42 10.5h2M49 10.5h8M63 10.5h1M4 11.5h9M33 11.5h1M42 11.5h2M49 11.5h7M63 11.5h1M4 12.5h18M33 12.5h1M41 12.5h2M48 12.5h6M63 12.5h1M5 13.5h6M21 13.5h4M33 13.5h1M39 13.5h4M48 13.5h2M51 13.5h2M63 13.5h1M6 14.5h4M23 14.5h4M33 14.5h1M38 14.5h3M48 14.5h1M52 14.5h1M7 15.5h4M24 15.5h3M33 15.5h1M38 15.5h2M48 15.5h1M52 15.5h1M8 16.5h4M24 16.5h4M32 16.5h1M38 16.5h2M47 16.5h2M52 16.5h1M63 16.5h1M8 17.5h6M24 17.5h9M38 17.5h1M46 17.5h2M52 17.5h1M63 17.5h1M9 18.5h16M28 18.5h3M38 18.5h1M43 18.5h5M52 18.5h1M63 18.5h1M9 19.5h4M20 19.5h4M38 19.5h2M43 19.5h1M51 19.5h2M63 19.5h1M9 20.5h3M21 20.5h2M39 20.5h1M43 20.5h1M51 20.5h2M63 20.5h1M9 21.5h3M19 21.5h4M40 21.5h4M50 21.5h3M63 21.5h1M9 22.5h4M17 22.5h3M41 22.5h2M49 22.5h3M63 22.5h1M9 23.5h9M48 23.5h2M63 23.5h1M4 24.5h12M48 24.5h1M4 25.5h11M48 25.5h1M4 26.5h5M12 26.5h5M48 26.5h1M4 27.5h3M14 27.5h4M48 27.5h3M17 28.5h1M48 28.5h4M63 28.5h1M18 29.5h1M49 29.5h3M59 29.5h5M18 30.5h1M49 30.5h3M59 30.5h5M18 31.5h1M50 31.5h2M59 31.5h5M23 35.5h1M41 35.5h1M32 38.5h1M28 40.5h1M36 40.5h1"/><path stroke="#690000" d="M13 0.5h3M48 0.5h2M62 0.5h2M14 1.5h2M48 1.5h2M63 1.5h1M9 3.5h3M44 3.5h3M8 4.5h2M11 4.5h1M43 4.5h4M8 5.5h1M11 5.5h1M40 5.5h7M8 6.5h2M11 6.5h1M39 6.5h8M8 7.5h4M38 7.5h8M8 8.5h4M36 8.5h7M34 9.5h9M34 10.5h2M38 10.5h4M34 11.5h2M37 11.5h5M34 12.5h1M37 12.5h4M11 13.5h10M34 13.5h1M37 13.5h2M50 13.5h1M10 14.5h5M19 14.5h4M34 14.5h1M37 14.5h1M49 14.5h3M11 15.5h3M22 15.5h2M34 15.5h1M37 15.5h1M49 15.5h3M12 16.5h3M22 16.5h2M33 16.5h2M36 16.5h2M49 16.5h3M14 17.5h10M33 17.5h1M37 17.5h1M48 17.5h4M25 18.5h3M31 18.5h2M37 18.5h1M48 18.5h4M24 19.5h8M37 19.5h1M44 19.5h7M23 20.5h4M38 20.5h1M44 20.5h7M23 21.5h2M38 21.5h2M44 21.5h6M20 22.5h4M39 22.5h2M43 22.5h6M18 23.5h3M40 23.5h8M16 24.5h3M41 24.5h7M15 25.5h3M42 25.5h6M17 26.5h2M45 26.5h3M18 27.5h2M45 27.5h3M18 28.5h2M45 28.5h3M19 29.5h1M45 29.5h4M19 30.5h1M45 30.5h4M19 31.5h2M45 31.5h5M23 32.5h1M41 32.5h1M23 33.5h1M28 33.5h2M35 33.5h2M41 33.5h1M23 34.5h2M30 34.5h1M34 34.5h1M40 34.5h2M24 35.5h1M30 35.5h1M34 35.5h1M40 35.5h1M24 36.5h2M39 36.5h2M25 37.5h2M38 37.5h2M26 38.5h2M37 38.5h2M27 39.5h3M35 39.5h3M29 40.5h7"/><path stroke="#720000" d="M10 4.5h1M9 5.5h2M10 6.5h1M36 10.5h2M36 11.5h1M35 12.5h2M35 13.5h2M15 14.5h4M35 14.5h2M14 15.5h8M35 15.5h2M15 16.5h7M35 16.5h1M34 17.5h3M33 18.5h4M32 19.5h5M27 20.5h6M36 20.5h2M25 21.5h4M37 21.5h1M24 22.5h3M38 22.5h1M21 23.5h5M39 23.5h1M19 24.5h6M40 24.5h1M18 25.5h6M41 25.5h1M19 26.5h4M42 26.5h3M20 27.5h2M42 27.5h3M20 28.5h2M43 28.5h2M20 29.5h2M43 29.5h2M20 30.5h2M44 30.5h1M21 31.5h1M44 31.5h1"/><path stroke="#7c0000" d="M33 20.5h3M29 21.5h8M27 22.5h3M36 22.5h2M26 23.5h1M38 23.5h1M25 24.5h1M39 24.5h1M24 25.5h1M40 25.5h1M23 26.5h1M40 26.5h2M22 27.5h2M41 27.5h1M22 28.5h1M42 28.5h1M22 29.5h1M42 29.5h1M22 30.5h1M42 30.5h2M22 31.5h1M42 31.5h2M26 34.5h1M38 34.5h1M29 37.5h1M35 37.5h1"/><path stroke="#850000" d="M30 22.5h6M27 23.5h2M36 23.5h2M26 24.5h2M38 24.5h1M25 25.5h1M39 25.5h1M24 26.5h2M39 26.5h1M24 27.5h1M40 27.5h1M23 28.5h1M41 28.5h1M23 29.5h1M41 29.5h1M23 30.5h1M41 30.5h1M23 31.5h1M41 31.5h1"/><path stroke="#8f0000" d="M29 23.5h7M28 24.5h1M36 24.5h2M26 25.5h1M38 25.5h1M25 27.5h1M39 27.5h1M24 28.5h1M40 28.5h1M24 29.5h1M40 29.5h1M24 30.5h1M40 30.5h1M24 31.5h1M40 31.5h1"/><path stroke="#980000" d="M29 24.5h1M35 24.5h1M27 25.5h1M37 25.5h1M26 26.5h1M38 26.5h1M25 28.5h1M39 28.5h1M26 33.5h1M38 33.5h1M27 35.5h1M37 35.5h1M28 36.5h1M36 36.5h1M30 37.5h1M34 37.5h1"/><path stroke="#a10000" d="M30 24.5h1M34 24.5h1M28 25.5h1M36 25.5h1M26 27.5h1M38 27.5h1M25 29.5h1M39 29.5h1M28 34.5h1M36 34.5h1M29 35.5h1M35 35.5h1M32 36.5h1"/><path stroke="#ab0000" d="M31 24.5h3M27 26.5h1M37 26.5h1M25 30.5h1M39 30.5h1M25 31.5h1M39 31.5h1M26 32.5h2M37 32.5h2M31 36.5h1M33 36.5h1M31 37.5h3"/><path stroke="#b40000" d="M29 25.5h1M35 25.5h1M26 28.5h1M38 28.5h1M27 33.5h1M37 33.5h1M27 34.5h1M37 34.5h1M28 35.5h1M36 35.5h1M29 36.5h2M34 36.5h2"/><path stroke="#be0000" d="M30 25.5h1M34 25.5h1M28 26.5h1M36 26.5h1M27 27.5h1M37 27.5h1M26 29.5h1M38 29.5h1"/><path stroke="#c70000" d="M31 25.5h3M29 26.5h1M35 26.5h1M27 28.5h1M37 28.5h1M26 30.5h1M38 30.5h1M26 31.5h1M38 31.5h1M29 32.5h1M35 32.5h1M31 34.5h1M33 34.5h1"/><path stroke="#d10000" d="M28 27.5h1M36 27.5h1"/><path stroke="#da0000" d="M30 26.5h1M34 26.5h1M27 29.5h1M37 29.5h1"/><path stroke="#e30000" d="M31 26.5h3M29 27.5h1M35 27.5h1M28 28.5h1M36 28.5h1M27 30.5h1M37 30.5h1M27 31.5h1M37 31.5h1"/><path stroke="#ed0000" d="M32 34.5h1"/><path stroke="#f60000" d="M30 27.5h1M34 27.5h1M28 29.5h1M36 29.5h1"/><path stroke="#ff0100" d="M29 28.5h1M35 28.5h1"/><path stroke="#ff0a00" d="M31 27.5h3M28 30.5h1M36 30.5h1M28 31.5h1M36 31.5h1"/><path stroke="#ff1400" d="M30 33.5h1M34 33.5h1"/><path stroke="#ff3000" d="M30 28.5h1M34 28.5h1M29 29.5h1M35 29.5h1"/><path stroke="#ff7200" d="M31 28.5h1M33 28.5h1M29 30.5h1M35 30.5h1"/><path stroke="#ff8e00" d="M32 28.5h1M29 31.5h1M35 31.5h1"/><path stroke="#ff9800" d="M30 32.5h1M34 32.5h1M31 33.5h1M33 33.5h1"/><path stroke="#ffaa00" d="M30 29.5h1M34 29.5h1"/><path stroke="#ffc700" d="M32 33.5h1"/><path stroke="#fff600" d="M31 29.5h1M33 29.5h1M30 30.5h1M34 30.5h1"/><path stroke="#ffff1d" d="M32 29.5h1M30 31.5h1M34 31.5h1"/><path stroke="#ffff55" d="M31 32.5h1M33 32.5h1"/><path stroke="#ffff80" d="M31 30.5h1M33 30.5h1"/><path stroke="#ffffaa" d="M32 32.5h1"/><path stroke="#ffffb8" d="M32 30.5h1M31 31.5h1M33 31.5h1"/><path stroke="#ffffff" d="M32 31.5h1"/></g>
<!-- f -->
<path d="M551.34 1516.6V1503.49H559.18V1443.79H568.02V1370.92H577.19V1293.71H585.86V1215.84H595.03V1234.18H604.54V1310.06H613.71V1367.08H622.55V1325.9H631.72V1389.26H640.56V1464.3H648.39V1456.8H658.73V1463.13H666.74V1482.64H675.91V1483.98H684.58V1501.82H693.75V1500.65H702.92V1512.32H710.59V1507.15H720.93V1515.66H728.43V1513.49H738.94V1514.99H755.11V1516.6Z" fill="#ffa500"/>
<path d="M542.3 1516.3L568.35 1516.32L570.02 1511.82L571.19 1505.15L572.52 1491.81L574.19 1466.8L575.86 1433.45L577.52 1391.76L579.19 1358.41L580.86 1325.06L583.03 1283.38L585.03 1250.03L586.7 1221.68L588.36 1200L591.53 1161.57L593.16 1156.94L595.61 1158.85L599.15 1164.28L602.41 1167L605.13 1172.99L608.37 1200L610.87 1216.68L613.38 1236.69L616.71 1266.7L620.88 1300.05L625.05 1330.07L628.38 1356.75L631.72 1380.09L635.05 1400.1L640.06 1423.45L645.06 1443.46L650.06 1460.13L655.06 1475.14L660.07 1485.14L665.07 1492.65L671.74 1499.32L680.08 1505.99L688.41 1510.99L696.75 1513.82L705.09 1515.16L713.43 1515.82L730.1 1516.16L967 1516.3" fill="none" stroke="#f00" stroke-width="2.5" stroke-linejoin="round"/>
<rect x="542.3" y="1096.3" width="424.7" height="420.3" fill="none" stroke="#2b2b2b" stroke-width="2.3"/>
<text class="d" x="542.3" y="1542.4" font-size="20.4" text-anchor="middle" fill="#1a1a1a">0</text>
<text class="d" x="636.36" y="1542.4" font-size="20.4" text-anchor="middle" fill="#1a1a1a">200</text>
<text class="d" x="730.42" y="1542.4" font-size="20.4" text-anchor="middle" fill="#1a1a1a">400</text>
<text class="d" x="824.48" y="1542.4" font-size="20.4" text-anchor="middle" fill="#1a1a1a">600</text>
<text class="d" x="918.54" y="1542.4" font-size="20.4" text-anchor="middle" fill="#1a1a1a">800</text>
<text class="d" x="532.1" y="1524.1" font-size="20.4" text-anchor="end" fill="#1a1a1a">0.00</text>
<text class="d" x="532.1" y="1464.01" font-size="20.4" text-anchor="end" fill="#1a1a1a">0.01</text>
<text class="d" x="532.1" y="1403.92" font-size="20.4" text-anchor="end" fill="#1a1a1a">0.02</text>
<text class="d" x="532.1" y="1343.83" font-size="20.4" text-anchor="end" fill="#1a1a1a">0.03</text>
<text class="d" x="532.1" y="1283.74" font-size="20.4" text-anchor="end" fill="#1a1a1a">0.04</text>
<text class="d" x="532.1" y="1223.65" font-size="20.4" text-anchor="end" fill="#1a1a1a">0.05</text>
<text class="d" x="532.1" y="1163.56" font-size="20.4" text-anchor="end" fill="#1a1a1a">0.06</text>
<text class="d" x="532.1" y="1103.47" font-size="20.4" text-anchor="end" fill="#1a1a1a">0.07</text>
<path d="M542.3 1516.6v5.3M636.36 1516.6v5.3M730.42 1516.6v5.3M824.48 1516.6v5.3M918.54 1516.6v5.3M542.3 1516.6h-5.3M542.3 1456.51h-5.3M542.3 1396.42h-5.3M542.3 1336.33h-5.3M542.3 1276.24h-5.3M542.3 1216.15h-5.3M542.3 1156.06h-5.3M542.3 1095.97h-5.3" stroke="#2b2b2b" stroke-width="1.9" fill="none"/>
<rect x="631" y="1109.4" width="323.5" height="82" rx="4.5" fill="#fff" fill-opacity="0.8" stroke="#d0d0d0" stroke-width="1.4"/>
<path d="M639.7 1129.5h53.3" stroke="#f00" stroke-width="2.2"/>
<rect x="640.5" y="1158.3" width="52" height="17.4" fill="#ffa500"/>
<text class="d" x="711.69" y="1138.5" font-size="25.7" fill="#1a1a1a">PSD Ground Truth</text>
<text class="d" x="711.69" y="1175.7" font-size="25.7" fill="#1a1a1a">PSD Prediction</text>
<text class="d" x="753.7" y="1571.6" font-size="28.2" text-anchor="middle" fill="#1a1a1a">Particle Size / μm</text>
<path d="M622.26 2012.9V2010.46H631.23V2007.74H640.2V2001.21H649.17V1995.5H658.15V1985.17H667.12V1972.39H676.09V1959.34H684.48V1946.34H693.59V1918.04H702.87V1898.85H711.98V1905.25H721.1V1911.48H728.45V1866.07H738.85V1884.46H746.36V1879.18H755.16V1878.06H764.76V1880.46H774.03V1901.25H782.83V1927.15H790.66V1905.09H800.74V1947.94H808.73V1945.22H817.85V1949.22H826.8V1966.01H835.92V1978.81H845.03V1990.32H853.99V1989.04H863.1V1999.44H871.9V2003.11H881.01V2007.11H889.97V2008.39H898.28V2011.11H907.08V2011.91H916.68V2012.39H926.27V2012.9Z" fill="#ffa500"/>
<path d="M542.3 2012.6L650.5 2012.6L652.8 2011.9L655.8 2011.4L658.8 2010.4L663.3 2006.7L667.8 2000.7L672.2 1992.5L676.7 1982.8L681.2 1973.1L685.7 1962.7L690.1 1952.2L694.6 1941.8L699.1 1931.3L703.6 1921.6L708.1 1912.7L712.5 1904.5L715.5 1900L719.98 1891.97L727.97 1883.5L735.97 1879.34L743.17 1878.38L750.36 1879.98L759.96 1885.58L769.55 1893.57L779.15 1903.17L791.94 1916.76L804.73 1931.15L817.53 1944.74L830.32 1958.34L843.11 1970.33L855.91 1980.73L871.9 1991.12L887.89 1998.32L903.88 2003.43L919.87 2007.11L935.86 2009.19L951.86 2010.63L967.05 2011.43" fill="none" stroke="#f00" stroke-width="2.5" stroke-linejoin="round"/>
<rect x="542.3" y="1592.3" width="424.7" height="420.6" fill="none" stroke="#2b2b2b" stroke-width="2.3"/>
<text class="d" x="542.3" y="2038.7" font-size="20.4" text-anchor="middle" fill="#1a1a1a">0</text>
<text class="d" x="636.36" y="2038.7" font-size="20.4" text-anchor="middle" fill="#1a1a1a">200</text>
<text class="d" x="730.42" y="2038.7" font-size="20.4" text-anchor="middle" fill="#1a1a1a">400</text>
<text class="d" x="824.48" y="2038.7" font-size="20.4" text-anchor="middle" fill="#1a1a1a">600</text>
<text class="d" x="918.54" y="2038.7" font-size="20.4" text-anchor="middle" fill="#1a1a1a">800</text>
<text class="d" x="532.1" y="2020.4" font-size="20.4" text-anchor="end" fill="#1a1a1a">0.00</text>
<text class="d" x="532.1" y="1960.31" font-size="20.4" text-anchor="end" fill="#1a1a1a">0.01</text>
<text class="d" x="532.1" y="1900.22" font-size="20.4" text-anchor="end" fill="#1a1a1a">0.02</text>
<text class="d" x="532.1" y="1840.13" font-size="20.4" text-anchor="end" fill="#1a1a1a">0.03</text>
<text class="d" x="532.1" y="1780.04" font-size="20.4" text-anchor="end" fill="#1a1a1a">0.04</text>
<text class="d" x="532.1" y="1719.95" font-size="20.4" text-anchor="end" fill="#1a1a1a">0.05</text>
<text class="d" x="532.1" y="1659.86" font-size="20.4" text-anchor="end" fill="#1a1a1a">0.06</text>
<text class="d" x="532.1" y="1599.77" font-size="20.4" text-anchor="end" fill="#1a1a1a">0.07</text>
<path d="M542.3 2012.9v5.3M636.36 2012.9v5.3M730.42 2012.9v5.3M824.48 2012.9v5.3M918.54 2012.9v5.3M542.3 2012.9h-5.3M542.3 1952.81h-5.3M542.3 1892.72h-5.3M542.3 1832.63h-5.3M542.3 1772.54h-5.3M542.3 1712.45h-5.3M542.3 1652.36h-5.3M542.3 1592.27h-5.3" stroke="#2b2b2b" stroke-width="1.9" fill="none"/>
<rect x="631" y="1605.6" width="323.5" height="82" rx="4.5" fill="#fff" fill-opacity="0.8" stroke="#d0d0d0" stroke-width="1.4"/>
<path d="M639.7 1625.7h53.3" stroke="#f00" stroke-width="2.2"/>
<rect x="640.5" y="1654.5" width="52" height="17.4" fill="#ffa500"/>
<text class="d" x="711.69" y="1634.7" font-size="25.7" fill="#1a1a1a">PSD Ground Truth</text>
<text class="d" x="711.69" y="1671.9" font-size="25.7" fill="#1a1a1a">PSD Prediction</text>
<text class="d" x="753.7" y="2067.5" font-size="28.2" text-anchor="middle" fill="#1a1a1a">Particle Size / μm</text>
<!-- g -->
<path d="M1116.65 1859.16L1129.62 1856.19L1142.59 1853.22L1155.57 1853.64L1168.54 1852.37L1181.51 1847.27L1194.48 1844.72L1207.46 1851.94L1220.43 1842.59L1233.4 1832.4L1246.37 1828.15L1259.34 1840.47L1272.32 1833.67L1285.29 1809.47L1298.26 1807.13L1311.23 1820.62L1324.21 1823.55L1337.18 1806.54L1350.15 1798.92L1363.12 1800.09L1376.09 1772.53L1389.07 1727.38L1402.04 1712.72L1415.01 1732.07L1427.98 1734.42L1440.96 1690.44L1453.93 1669.33L1466.9 1589.47L1479.87 1464.09L1492.84 1344.16L1505.82 1230.77L1518.79 1162.08L1531.76 1137L1544.73 1162.08L1557.71 1230.77L1570.68 1344.16L1583.65 1464.09L1596.62 1589.47L1609.59 1669.33L1622.57 1690.44L1635.54 1734.42L1648.51 1732.07L1661.48 1712.72L1674.46 1727.38L1687.43 1772.53L1700.4 1800.09L1713.37 1798.92L1726.34 1806.54L1739.32 1823.55L1752.29 1820.62L1765.26 1807.13L1778.23 1809.47L1791.21 1833.67L1804.18 1840.47L1817.15 1828.15L1830.12 1832.4L1843.09 1842.59L1856.07 1851.94L1869.04 1844.72L1882.01 1847.27L1894.98 1852.37L1907.96 1853.64L1920.93 1853.22L1933.9 1856.19" fill="none" stroke="#fcab8e" stroke-width="3.6" stroke-linejoin="round"/>
<path d="M1116.65 1846.42L1129.62 1843.02L1142.59 1844.29L1155.57 1851.94L1168.54 1850.67L1181.51 1845.57L1194.48 1840.47L1207.46 1845.57L1220.43 1841.32L1233.4 1834.52L1246.37 1831.55L1259.34 1839.19L1272.32 1832.82L1285.29 1812.41L1298.26 1810.65L1311.23 1822.96L1324.21 1824.72L1337.18 1812.41L1350.15 1805.37L1363.12 1810.65L1376.09 1780.74L1389.07 1738.52L1402.04 1726.8L1415.01 1744.39L1427.98 1746.73L1440.96 1705.69L1453.93 1683.4L1466.9 1605.83L1479.87 1477.17L1492.84 1350.7L1505.82 1235.35L1518.79 1164.04L1531.76 1137L1544.73 1164.04L1557.71 1235.35L1570.68 1350.7L1583.65 1477.17L1596.62 1605.83L1609.59 1683.4L1622.57 1705.69L1635.54 1746.73L1648.51 1744.39L1661.48 1726.8L1674.46 1738.52L1687.43 1780.74L1700.4 1810.65L1713.37 1805.37L1726.34 1812.41L1739.32 1824.72L1752.29 1822.96L1765.26 1810.65L1778.23 1812.41L1791.21 1832.82L1804.18 1839.19L1817.15 1831.55L1830.12 1834.52L1843.09 1841.32L1856.07 1845.57L1869.04 1840.47L1882.01 1845.57L1894.98 1850.67L1907.96 1851.94L1920.93 1844.29L1933.9 1843.02" fill="none" stroke="#fc9272" stroke-width="3.6" stroke-linejoin="round"/>
<path d="M1116.65 1842.17L1129.62 1837.49L1142.59 1829L1155.57 1826.45L1168.54 1823.22L1181.51 1822.88L1194.48 1820.67L1207.46 1823.64L1220.43 1823.47L1233.4 1826.87L1246.37 1829.85L1259.34 1834.52L1272.32 1826.87L1285.29 1815.92L1298.26 1813.58L1311.23 1824.13L1324.21 1826.48L1337.18 1822.96L1350.15 1819.44L1363.12 1821.2L1376.09 1792.47L1389.07 1761.98L1402.04 1747.91L1415.01 1760.81L1427.98 1759.63L1440.96 1724.45L1453.93 1703.34L1466.9 1626.27L1479.87 1493.53L1492.84 1358.88L1505.82 1241.07L1518.79 1166.49L1531.76 1137L1544.73 1166.49L1557.71 1241.07L1570.68 1358.88L1583.65 1493.53L1596.62 1626.27L1609.59 1703.34L1622.57 1724.45L1635.54 1759.63L1648.51 1760.81L1661.48 1747.91L1674.46 1761.98L1687.43 1792.47L1700.4 1821.2L1713.37 1819.44L1726.34 1822.96L1739.32 1826.48L1752.29 1824.13L1765.26 1813.58L1778.23 1815.92L1791.21 1826.87L1804.18 1834.52L1817.15 1829.85L1830.12 1826.87L1843.09 1823.47L1856.07 1823.64L1869.04 1820.67L1882.01 1822.88L1894.98 1823.22L1907.96 1826.45L1920.93 1829L1933.9 1837.49" fill="none" stroke="#fb7a5a" stroke-width="3.6" stroke-linejoin="round"/>
<path d="M1116.65 1917.8L1129.62 1908.45L1142.59 1883.81L1155.57 1881.68L1168.54 1877.01L1181.51 1882.11L1194.48 1877.01L1207.46 1872.34L1220.43 1854.07L1233.4 1847.27L1246.37 1847.27L1259.34 1853.64L1272.32 1841.32L1285.29 1819.44L1298.26 1816.51L1311.23 1825.89L1324.21 1829.41L1337.18 1824.72L1350.15 1822.37L1363.12 1824.13L1376.09 1795.99L1389.07 1767.84L1402.04 1753.77L1415.01 1764.91L1427.98 1763.15L1440.96 1729.14L1453.93 1709.21L1466.9 1634.45L1479.87 1500.07L1492.84 1362.15L1505.82 1243.36L1518.79 1167.47L1531.76 1137L1544.73 1167.47L1557.71 1243.36L1570.68 1362.15L1583.65 1500.07L1596.62 1634.45L1609.59 1709.21L1622.57 1729.14L1635.54 1763.15L1648.51 1764.91L1661.48 1753.77L1674.46 1767.84L1687.43 1795.99L1700.4 1824.13L1713.37 1822.37L1726.34 1824.72L1739.32 1829.41L1752.29 1825.89L1765.26 1816.51L1778.23 1819.44L1791.21 1841.32L1804.18 1853.64L1817.15 1847.27L1830.12 1847.27L1843.09 1854.07L1856.07 1872.34L1869.04 1877.01L1882.01 1882.11L1894.98 1877.01L1907.96 1881.68L1920.93 1883.81L1933.9 1908.45" fill="none" stroke="#f96144" stroke-width="3.6" stroke-linejoin="round"/>
<path d="M1116.65 1860.86L1129.62 1867.66L1142.59 1862.56L1155.57 1859.59L1168.54 1855.77L1181.51 1847.27L1194.48 1838.34L1207.46 1845.57L1220.43 1860.86L1233.4 1884.66L1246.37 1891.03L1259.34 1885.93L1272.32 1858.31L1285.29 1839.38L1298.26 1828.83L1311.23 1835.86L1324.21 1838.21L1337.18 1833.52L1350.15 1833.52L1363.12 1832.34L1376.09 1804.2L1389.07 1773.71L1402.04 1763.15L1415.01 1774.29L1427.98 1772.53L1440.96 1737.35L1453.93 1716.24L1466.9 1643.44L1479.87 1507.27L1492.84 1365.74L1505.82 1245.88L1518.79 1168.55L1531.76 1137L1544.73 1168.55L1557.71 1245.88L1570.68 1365.74L1583.65 1507.27L1596.62 1643.44L1609.59 1716.24L1622.57 1737.35L1635.54 1772.53L1648.51 1774.29L1661.48 1763.15L1674.46 1773.71L1687.43 1804.2L1700.4 1832.34L1713.37 1833.52L1726.34 1833.52L1739.32 1838.21L1752.29 1835.86L1765.26 1828.83L1778.23 1839.38L1791.21 1858.31L1804.18 1885.93L1817.15 1891.03L1830.12 1884.66L1843.09 1860.86L1856.07 1845.57L1869.04 1838.34L1882.01 1847.27L1894.98 1855.77L1907.96 1859.59L1920.93 1862.56L1933.9 1867.66" fill="none" stroke="#f14432" stroke-width="3.6" stroke-linejoin="round"/>
<path d="M1116.65 1840.47L1129.62 1843.44L1142.59 1846.42L1155.57 1858.31L1168.54 1856.61L1181.51 1849.39L1194.48 1837.49L1207.46 1841.32L1220.43 1855.77L1233.4 1876.16L1246.37 1874.46L1259.34 1862.56L1272.32 1841.32L1285.29 1833.52L1298.26 1827.65L1311.23 1834.69L1324.21 1838.21L1337.18 1835.28L1350.15 1834.69L1363.12 1839.38L1376.09 1819.44L1389.07 1792.47L1402.04 1779.57L1415.01 1788.95L1427.98 1784.26L1440.96 1756.11L1453.93 1733.83L1466.9 1664.71L1479.87 1524.27L1492.84 1374.25L1505.82 1251.83L1518.79 1171.1L1531.76 1137L1544.73 1171.1L1557.71 1251.83L1570.68 1374.25L1583.65 1524.27L1596.62 1664.71L1609.59 1733.83L1622.57 1756.11L1635.54 1784.26L1648.51 1788.95L1661.48 1779.57L1674.46 1792.47L1687.43 1819.44L1700.4 1839.38L1713.37 1834.69L1726.34 1835.28L1739.32 1838.21L1752.29 1834.69L1765.26 1827.65L1778.23 1833.52L1791.21 1841.32L1804.18 1862.56L1817.15 1874.46L1830.12 1876.16L1843.09 1855.77L1856.07 1841.32L1869.04 1837.49L1882.01 1849.39L1894.98 1856.61L1907.96 1858.31L1920.93 1846.42L1933.9 1843.44" fill="none" stroke="#e12d26" stroke-width="3.6" stroke-linejoin="round"/>
<path d="M1116.65 1842.17L1129.62 1849.82L1142.59 1851.94L1155.57 1854.07L1168.54 1845.57L1181.51 1840.47L1194.48 1833.84L1207.46 1833.25L1220.43 1831.55L1233.4 1833.84L1246.37 1832.82L1259.34 1835.37L1272.32 1831.12L1285.29 1827.07L1298.26 1824.13L1311.23 1821.79L1324.21 1818.86L1337.18 1821.79L1350.15 1824.13L1363.12 1825.89L1376.09 1806.54L1389.07 1783.09L1402.04 1773.12L1415.01 1782.5L1427.98 1782.5L1440.96 1752.6L1453.93 1737.35L1466.9 1671.25L1479.87 1529.51L1492.84 1376.87L1505.82 1253.66L1518.79 1171.89L1531.76 1137L1544.73 1171.89L1557.71 1253.66L1570.68 1376.87L1583.65 1529.51L1596.62 1671.25L1609.59 1737.35L1622.57 1752.6L1635.54 1782.5L1648.51 1782.5L1661.48 1773.12L1674.46 1783.09L1687.43 1806.54L1700.4 1825.89L1713.37 1824.13L1726.34 1821.79L1739.32 1818.86L1752.29 1821.79L1765.26 1824.13L1778.23 1827.07L1791.21 1831.12L1804.18 1835.37L1817.15 1832.82L1830.12 1833.84L1843.09 1831.55L1856.07 1833.25L1869.04 1833.84L1882.01 1840.47L1894.98 1845.57L1907.96 1854.07L1920.93 1851.94L1933.9 1849.82" fill="none" stroke="#cb181d" stroke-width="3.6" stroke-linejoin="round"/>
<rect x="1116.65" y="1098.6" width="817.25" height="861.6" fill="none" stroke="#000" stroke-width="1.9"/>
<text class="d" x="1116.65" y="2004.7" font-size="33.8" text-anchor="middle">0</text>
<text class="d" x="1246.37" y="2004.7" font-size="33.8" text-anchor="middle">10</text>
<text class="d" x="1376.09" y="2004.7" font-size="33.8" text-anchor="middle">20</text>
<text class="d" x="1505.82" y="2004.7" font-size="33.8" text-anchor="middle">30</text>
<text class="d" x="1635.54" y="2004.7" font-size="33.8" text-anchor="middle">40</text>
<text class="d" x="1765.26" y="2004.7" font-size="33.8" text-anchor="middle">50</text>
<text class="d" x="1894.98" y="2004.7" font-size="33.8" text-anchor="middle">60</text>
<text class="d" x="1099.15" y="1912.81" font-size="33.8" text-anchor="end">0.3</text>
<text class="d" x="1099.15" y="1803.78" font-size="33.8" text-anchor="end">0.4</text>
<text class="d" x="1099.15" y="1694.75" font-size="33.8" text-anchor="end">0.5</text>
<text class="d" x="1099.15" y="1585.72" font-size="33.8" text-anchor="end">0.6</text>
<text class="d" x="1099.15" y="1476.69" font-size="33.8" text-anchor="end">0.7</text>
<text class="d" x="1099.15" y="1367.66" font-size="33.8" text-anchor="end">0.8</text>
<text class="d" x="1099.15" y="1258.63" font-size="33.8" text-anchor="end">0.9</text>
<text class="d" x="1099.15" y="1149.6" font-size="33.8" text-anchor="end">1.0</text>
<path d="M1116.65 1960.2v8.6M1246.37 1960.2v8.6M1376.09 1960.2v8.6M1505.82 1960.2v8.6M1635.54 1960.2v8.6M1765.26 1960.2v8.6M1894.98 1960.2v8.6M1116.65 1900.21h-8.6M1116.65 1791.18h-8.6M1116.65 1682.15h-8.6M1116.65 1573.12h-8.6M1116.65 1464.09h-8.6M1116.65 1355.06h-8.6M1116.65 1246.03h-8.6M1116.65 1137h-8.6" stroke="#000" stroke-width="1.9" fill="none"/>
<text class="d" x="1525.78" y="2049.5" font-size="38.9" text-anchor="middle">Pixel</text>
<text class="d" font-size="38.9" text-anchor="middle" transform="translate(1028.3 1529.5) rotate(-90)">Autocorrelation</text>
<rect x="1634.6" y="1113" width="284.6" height="309.5" rx="5" fill="#fff" fill-opacity="0.8" stroke="#d0d0d0" stroke-width="2"/>
<path d="M1644.7 1136.8h61.8" stroke="#fcab8e" stroke-width="3.6"/>
<text class="d" x="1728.49" y="1147.2" font-size="29.45">0-106 μm</text>
<path d="M1644.7 1179.75h61.8" stroke="#fc9272" stroke-width="3.6"/>
<text class="d" x="1727.16" y="1190.15" font-size="29.45">106-180 μm</text>
<path d="M1644.7 1222.7h61.8" stroke="#fb7a5a" stroke-width="3.6"/>
<text class="d" x="1727.16" y="1233.1" font-size="29.45">180-250 μm</text>
<path d="M1644.7 1265.65h61.8" stroke="#f96144" stroke-width="3.6"/>
<text class="d" x="1728.26" y="1276.05" font-size="29.45">250-300 μm</text>
<path d="M1644.7 1308.6h61.8" stroke="#f14432" stroke-width="3.6"/>
<text class="d" x="1728.19" y="1319" font-size="29.45">300-355 μm</text>
<path d="M1644.7 1351.55h61.8" stroke="#e12d26" stroke-width="3.6"/>
<text class="d" x="1728.19" y="1361.95" font-size="29.45">355-425 μm</text>
<path d="M1644.7 1394.5h61.8" stroke="#cb181d" stroke-width="3.6"/>
<text class="d" x="1728.93" y="1404.9" font-size="29.45">425-500 μm</text>
<text class="a" x="1420.15" y="1587.5" font-size="30">1st</text>
<path d="M1437.2 1598.3h5.4V1643.4h4.7L1439.9 1657.8l-7.4 -14.4h4.7z" fill="#000"/>
<text class="a" x="1363.1" y="1633.2" font-size="30">2nd</text>
<path d="M1387.5 1643.3h5.4V1686.8h4.7L1390.2 1701.2l-7.4 -14.4h4.7z" fill="#000"/>
<text class="a" x="1317.17" y="1676.4" font-size="30">3rd</text>
<path d="M1338 1685.2h5.4V1730.6h4.7L1340.7 1745l-7.4 -14.4h4.7z" fill="#000"/>
<text class="a" x="1266.92" y="1719.2" font-size="30">4th</text>
<path d="M1288.7 1729.1h5.4V1774.5h4.7L1291.4 1788.9l-7.4 -14.4h4.7z" fill="#000"/>
<text class="a" x="1593.15" y="1587.6" font-size="30">1st</text>
<path d="M1609.7 1597.8h5.4V1642.6h4.7L1612.4 1657l-7.4 -14.4h4.7z" fill="#000"/>
<text class="a" x="1637.9" y="1633.1" font-size="30">2nd</text>
<path d="M1660.9 1643.3h5.4V1688.5h4.7L1663.6 1702.9l-7.4 -14.4h4.7z" fill="#000"/>
<text class="a" x="1693.28" y="1678.6" font-size="30">3rd</text>
<path d="M1711.9 1688.6h5.4V1733.6h4.7L1714.6 1748l-7.4 -14.4h4.7z" fill="#000"/>
<text class="a" x="1745.23" y="1724.3" font-size="30">4th</text>
<path d="M1763.1 1734.3h5.4V1779h4.7L1765.8 1793.4l-7.4 -14.4h4.7z" fill="#000"/>
<!-- labels -->
<text class="b" x="0.55" y="33.1" font-size="45">a</text>
<text class="b" x="497.07" y="32.9" font-size="45">b</text>
<text class="b" x="998.7" y="32.9" font-size="45">c</text>
<text class="b" x="1490.7" y="32.9" font-size="45">d</text>
<text class="b" x="-1.3" y="1062" font-size="45">e</text>
<text class="b" x="510.61" y="1062" font-size="45">f</text>
<text class="b" x="997.5" y="1062" font-size="45">g</text>
<text class="a" x="105.28" y="31.2" font-size="37.8">Microscope photo</text>
<text class="a" x="637.61" y="31.2" font-size="37.8">Camera photo</text>
<text class="a" x="1088.28" y="31.2" font-size="37.8">Raw speckle image</text>
<text class="a" x="1612.21" y="29.3" font-size="37.8">Autocorrelations</text>
<text class="a" x="44.41" y="1062.6" font-size="37.8">Averaged Autocorrelation</text>
<text class="a" x="557.98" y="1064" font-size="37.8">Particle Size Distribution</text>
<text class="a" x="1175.61" y="1064" font-size="37.8">Averaged Autocorrelation Cross-sections</text>
<text class="a" x="3.84" y="100.5" font-size="41">(i)</text>
<text class="a" x="-2.56" y="594.5" font-size="41">(ii)</text>
<text class="a" x="543.54" y="100.5" font-size="41">(i)</text>
<text class="a" x="542.44" y="594.5" font-size="41">(ii)</text>
<text class="a" x="1045.44" y="100.5" font-size="41" fill="#fff">(i)</text>
<text class="a" x="1043.44" y="594.5" font-size="41" fill="#fff">(ii)</text>
<text class="a" x="1540.74" y="98.5" font-size="41" fill="#fff">(i)</text>
<text class="a" x="1538.44" y="596" font-size="41" fill="#fff">(ii)</text>
<text class="a" x="44.14" y="1127.8" font-size="41" fill="#fff">(i)</text>
<text class="a" x="45.84" y="1630.2" font-size="41" fill="#fff">(ii)</text>
<text class="a" x="544.94" y="1132" font-size="41">(i)</text>
<text class="a" x="543.44" y="1628" font-size="41">(ii)</text>
<rect x="366.8" y="429.5" width="91" height="14.3" fill="#fff"/>
<text class="a" x="361.12" y="478.8" font-size="32" fill="#fff">500μm</text>
<rect x="366.8" y="924" width="91" height="14.3" fill="#fff"/>
<text class="a" x="361.12" y="973.3" font-size="32" fill="#fff">500μm</text>
<rect x="862.6" y="429.8" width="91" height="14.3" fill="#fff"/>
<text class="a" x="877.92" y="479.1" font-size="32" fill="#fff">5cm</text>
<rect x="862.6" y="924.3" width="91" height="14.3" fill="#fff"/>
<text class="a" x="877.92" y="973.6" font-size="32" fill="#fff">5cm</text>
<text class="a" x="374.4" y="1125.4" font-size="29.8" text-anchor="middle" fill="#fff">Experimental</text>
<text class="a" x="374.4" y="1160.4" font-size="29.8" text-anchor="middle" fill="#fff">measurement</text>
<text class="a" x="364.7" y="1620.4" font-size="29.8" text-anchor="middle" fill="#fff">Experimental</text>
<text class="a" x="364.7" y="1654.2" font-size="29.8" text-anchor="middle" fill="#fff">measurement</text>
<text class="a" x="374.2" y="1470.3" font-size="29.8" text-anchor="middle" fill="#fff">Calculation</text>
<text class="a" x="374.5" y="1504.2" font-size="29.8" text-anchor="middle" fill="#fff">result</text>
<text class="a" x="374.2" y="1967.3" font-size="29.8" text-anchor="middle" fill="#fff">Calculation</text>
<text class="a" x="374.5" y="2001.7" font-size="29.8" text-anchor="middle" fill="#fff">result</text>
</svg>
</body></html>
